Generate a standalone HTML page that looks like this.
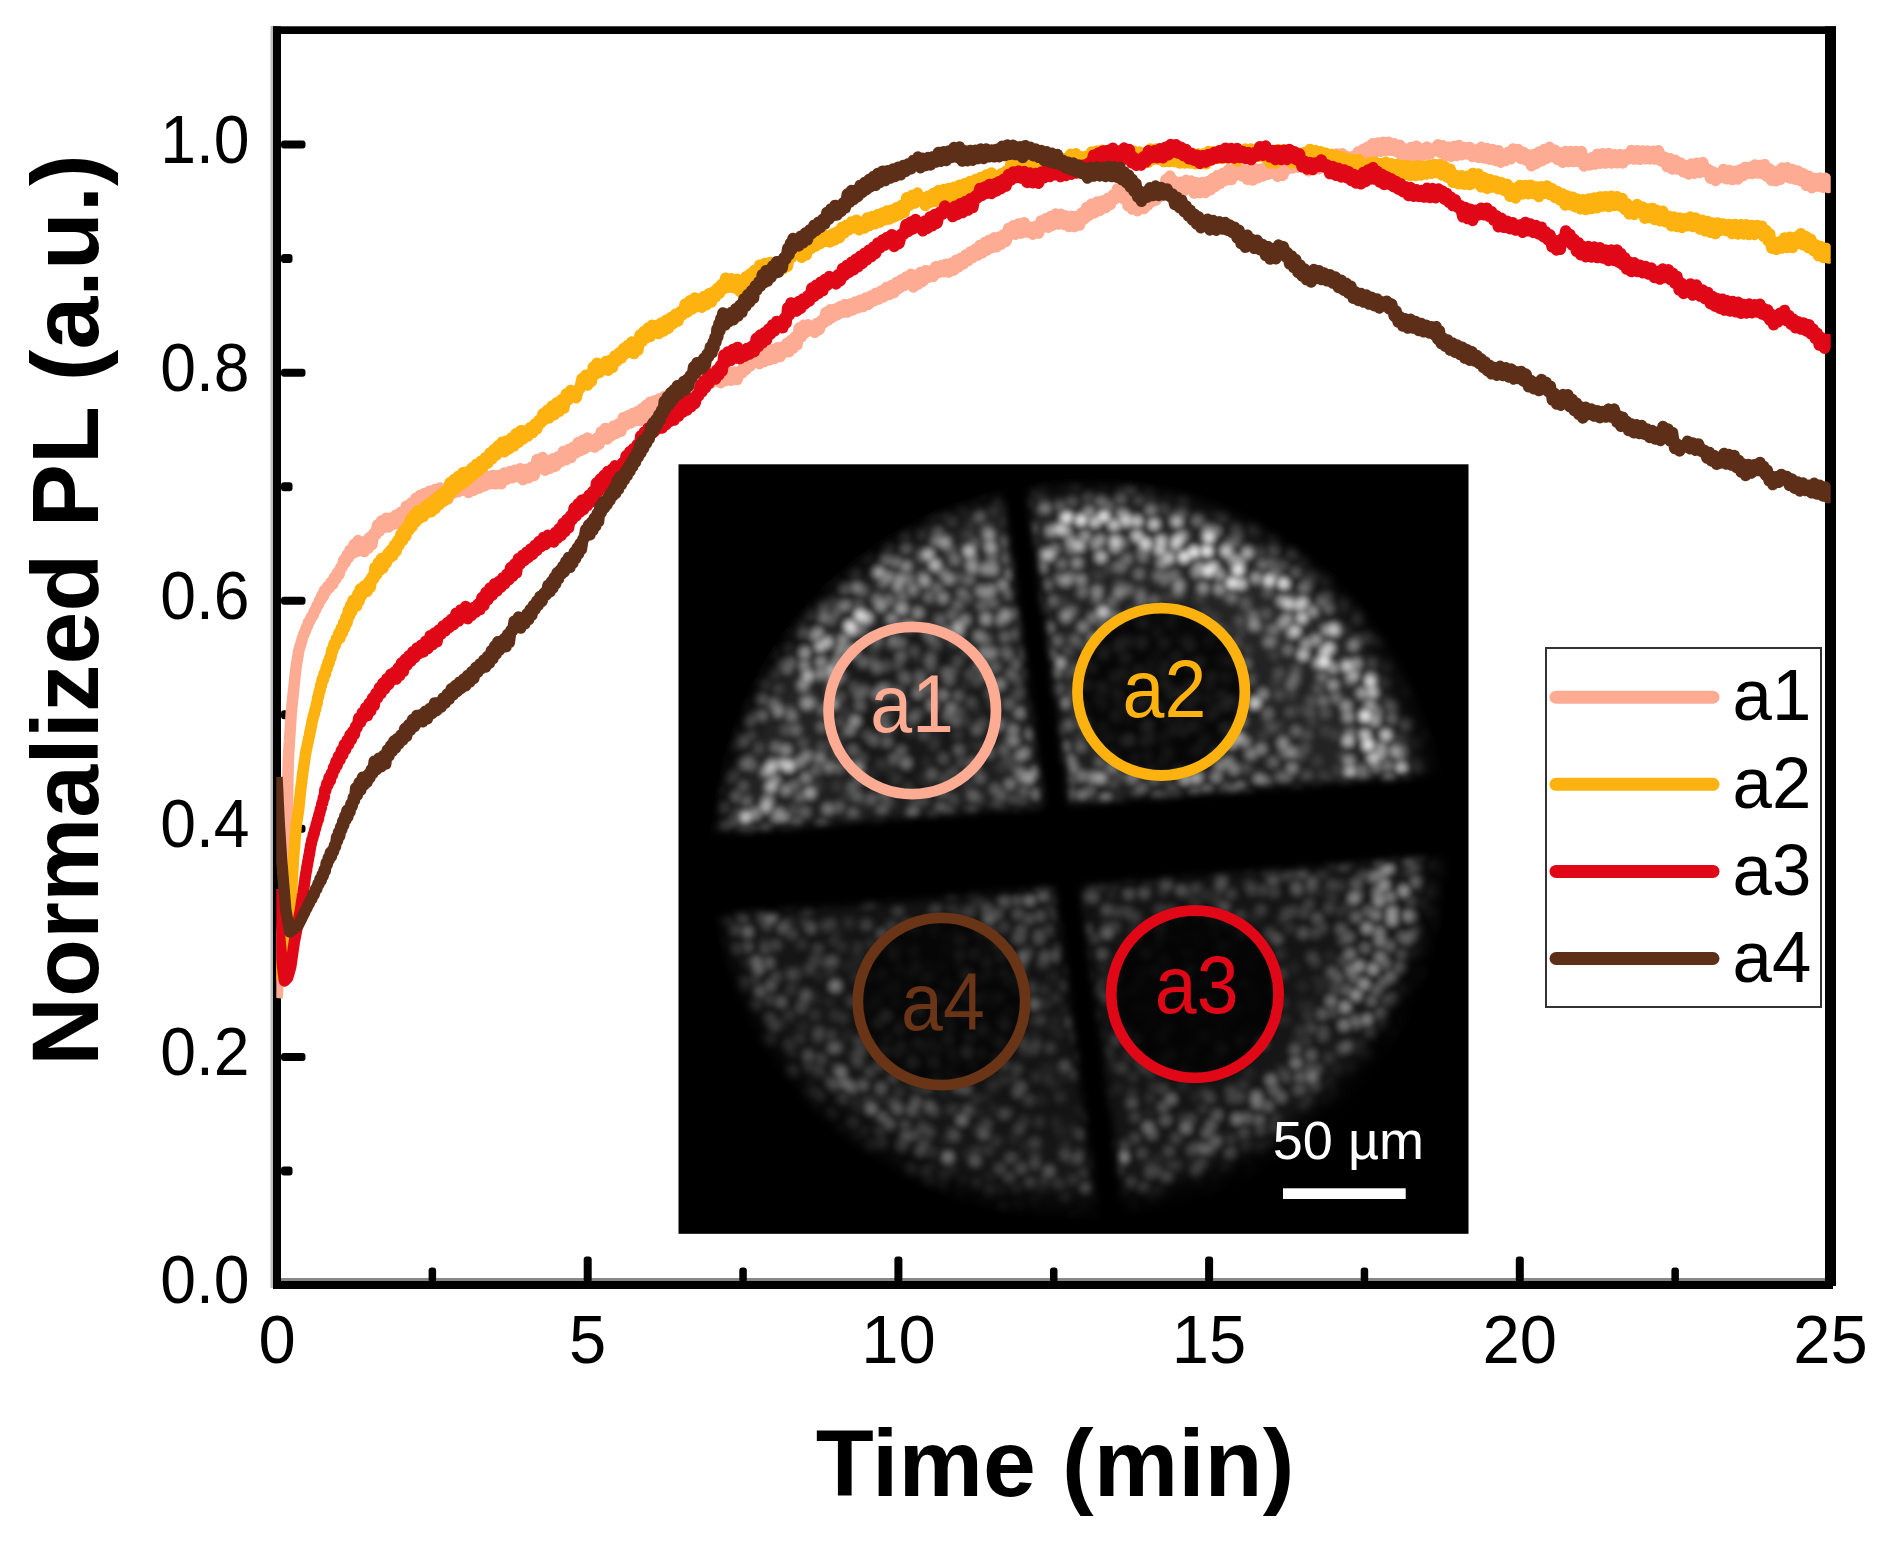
<!DOCTYPE html>
<html lang="en"><head><meta charset="utf-8"><title>Normalized PL vs Time</title>
<style>html,body{margin:0;padding:0;background:#fff;}body{width:1888px;height:1541px;overflow:hidden;}svg{display:block;position:absolute;left:0;top:0;}text{font-family:"Liberation Sans",sans-serif;}</style></head><body>
<svg width="1888" height="1541" viewBox="0 0 1888 1541">
<defs>
<filter id="spk" x="-5%" y="-5%" width="110%" height="110%"><feGaussianBlur stdDeviation="3.3"/></filter>
<filter id="b10" x="-10%" y="-10%" width="120%" height="120%"><feGaussianBlur stdDeviation="10"/></filter>
<filter id="b5" x="-10%" y="-10%" width="120%" height="120%"><feGaussianBlur stdDeviation="4"/></filter>
<radialGradient id="rg" cx="1076" cy="847" r="366" gradientUnits="userSpaceOnUse">
<stop offset="0" stop-color="#c8c8c8"/><stop offset="0.7" stop-color="#d8d8d8"/><stop offset="0.9" stop-color="#fff"/><stop offset="1" stop-color="#eee"/>
</radialGradient>
<linearGradient id="lg" x1="760" y1="1150" x2="1380" y2="560" gradientUnits="userSpaceOnUse">
<stop offset="0" stop-color="#000" stop-opacity="0.18"/><stop offset="1" stop-color="#000" stop-opacity="0"/>
</linearGradient>
<mask id="dm" maskUnits="userSpaceOnUse" x="679" y="464" width="789" height="769">
<rect x="679" y="464" width="789" height="769" fill="#000"/>
<g filter="url(#b10)">
<circle cx="1076" cy="847" r="350" fill="url(#rg)"/>
<circle cx="1076" cy="847" r="350" fill="url(#lg)"/>
<path fill="#000" fill-rule="evenodd" d="M600,400H1550V1300H600ZM1451,861A359,359 0 1 0 733,861A359,359 0 1 0 1451,861Z"/>
</g>
<g filter="url(#b5)" fill="#000">
<rect x="600" y="803" width="960" height="84" transform="rotate(-4.7 1076 845)"/>
<rect x="600" y="845" width="960" height="420" transform="rotate(-4.7 1076 845)" fill-opacity="0.36"/>
<line x1="1007" y1="430" x2="1117" y2="1260" stroke="#000" stroke-width="28"/>
<circle cx="1161" cy="691" r="84" fill-opacity="0.8"/>
<circle cx="1194.5" cy="993.5" r="84" fill-opacity="0.8"/>
<circle cx="941" cy="1001.5" r="84" fill-opacity="0.7"/>
<circle cx="912" cy="710.5" r="84" fill-opacity="0.25"/>
</g>
</mask>
<clipPath id="cp"><rect x="276.3" y="34" width="1554.4" height="1251"/></clipPath>
</defs>
<rect width="1888" height="1541" fill="#fff"/>
<rect x="270.5" y="26" width="2.5" height="1262" fill="#bbb"/>
<rect x="281" y="1278" width="1544" height="3" fill="#888"/>
<rect x="273" y="26.3" width="8" height="1262.7" fill="#000"/>
<rect x="273" y="26.3" width="1563" height="7.7" fill="#000"/>
<rect x="1825" y="26.3" width="11" height="1259.7" fill="#000"/>
<rect x="273" y="1281" width="1560" height="8" fill="#000"/>
<rect x="281" y="1166.5" width="11.5" height="9" rx="3" fill="#000"/>
<text transform="translate(249.5 1303.4) scale(0.945 1)" font-size="68" text-anchor="end" fill="#000">0.0</text>
<rect x="281" y="1052.9" width="24.5" height="8" rx="3" fill="#000"/>
<rect x="281" y="938.4" width="11.5" height="9" rx="3" fill="#000"/>
<text transform="translate(249.5 1075.3) scale(0.945 1)" font-size="68" text-anchor="end" fill="#000">0.2</text>
<rect x="281" y="824.8" width="24.5" height="8" rx="3" fill="#000"/>
<rect x="281" y="710.3" width="11.5" height="9" rx="3" fill="#000"/>
<text transform="translate(249.5 847.2) scale(0.945 1)" font-size="68" text-anchor="end" fill="#000">0.4</text>
<rect x="281" y="596.8" width="24.5" height="8" rx="3" fill="#000"/>
<rect x="281" y="482.2" width="11.5" height="9" rx="3" fill="#000"/>
<text transform="translate(249.5 619.2) scale(0.945 1)" font-size="68" text-anchor="end" fill="#000">0.6</text>
<rect x="281" y="368.7" width="24.5" height="8" rx="3" fill="#000"/>
<rect x="281" y="254.1" width="11.5" height="9" rx="3" fill="#000"/>
<text transform="translate(249.5 391.1) scale(0.945 1)" font-size="68" text-anchor="end" fill="#000">0.8</text>
<rect x="281" y="140.6" width="24.5" height="8" rx="3" fill="#000"/>
<text transform="translate(249.5 163.0) scale(0.945 1)" font-size="68" text-anchor="end" fill="#000">1.0</text>
<rect x="428.6" y="1267.5" width="7.5" height="15" rx="3" fill="#000"/>
<text transform="translate(277.0 1362.9) scale(0.985 1)" font-size="68" text-anchor="middle" fill="#000">0</text>
<rect x="583.7" y="1256.5" width="8" height="26" rx="3" fill="#000"/>
<rect x="739.3" y="1267.5" width="7.5" height="15" rx="3" fill="#000"/>
<text transform="translate(587.7 1362.9) scale(0.985 1)" font-size="68" text-anchor="middle" fill="#000">5</text>
<rect x="894.4" y="1256.5" width="8" height="26" rx="3" fill="#000"/>
<rect x="1050.0" y="1267.5" width="7.5" height="15" rx="3" fill="#000"/>
<text transform="translate(898.4 1362.9) scale(0.985 1)" font-size="68" text-anchor="middle" fill="#000">10</text>
<rect x="1205.1" y="1256.5" width="8" height="26" rx="3" fill="#000"/>
<rect x="1360.7" y="1267.5" width="7.5" height="15" rx="3" fill="#000"/>
<text transform="translate(1209.1 1362.9) scale(0.985 1)" font-size="68" text-anchor="middle" fill="#000">15</text>
<rect x="1515.8" y="1256.5" width="8" height="26" rx="3" fill="#000"/>
<rect x="1671.4" y="1267.5" width="7.5" height="15" rx="3" fill="#000"/>
<text transform="translate(1519.8 1362.9) scale(0.985 1)" font-size="68" text-anchor="middle" fill="#000">20</text>
<text transform="translate(1830.5 1362.9) scale(0.985 1)" font-size="68" text-anchor="middle" fill="#000">25</text>
<g clip-path="url(#cp)">
<polyline points="277.0,998.0 277.2,995.2 277.4,992.5 277.6,989.8 277.8,987.0 278.0,984.2 278.2,981.5 278.5,978.8 278.7,976.0 278.9,973.2 279.1,970.5 279.3,967.8 279.5,965.0 279.7,962.3 279.9,959.7 280.1,957.0 280.3,954.3 280.5,951.7 280.7,949.0 280.9,946.3 281.1,943.7 281.3,941.0 281.5,938.3 281.7,935.7 281.9,933.0 282.1,930.3 282.3,927.7 282.5,925.0 282.7,922.4 282.9,919.7 283.0,917.1 283.2,914.4 283.4,911.8 283.6,909.1 283.7,906.5 283.9,903.8 284.1,901.2 284.3,898.5 284.4,895.9 284.6,893.2 284.8,890.6 285.0,887.9 285.1,885.3 285.3,882.6 285.5,880.0 285.6,877.3 285.7,874.7 285.9,872.0 286.0,869.3 286.1,866.7 286.2,864.0 286.3,861.3 286.5,858.7 286.6,856.0 286.7,853.3 286.8,850.7 286.9,848.0 287.1,845.3 287.2,842.7 287.3,840.0 287.3,837.3 287.3,834.5 287.4,831.8 287.4,829.1 287.4,826.4 287.4,823.6 287.4,820.9 287.4,818.2 287.5,815.5 287.5,812.7 287.5,810.0 287.5,807.4 287.6,804.7 287.6,802.1 287.6,799.4 287.7,796.8 287.7,794.1 287.7,791.5 287.7,788.8 287.8,786.2 287.8,783.5 287.8,780.9 287.9,778.2 287.9,775.6 288.0,772.9 288.1,770.2 288.2,767.6 288.2,764.9 288.3,762.2 288.4,759.6 288.5,756.9 288.6,754.2 288.8,751.5 289.0,748.9 289.1,746.2 289.3,743.5 289.5,740.8 289.6,738.1 289.8,735.5 290.0,732.8 290.2,730.1 290.4,727.4 290.5,724.8 290.7,722.1 290.9,719.4 291.0,716.8 291.2,714.1 291.4,711.4 291.7,708.7 291.9,706.0 292.2,703.4 292.5,700.7 292.8,698.0 293.1,695.4 293.3,692.7 293.6,690.0 293.9,687.1 294.2,684.3 294.5,681.4 294.8,678.6 295.1,675.7 295.4,672.9 295.7,670.0 296.1,667.3 296.5,664.7 296.9,662.0 297.4,659.4 297.8,656.7 298.2,654.1 298.6,651.4 299.4,648.5 300.3,645.6 301.1,642.9 302.0,639.7 302.8,637.2 304.0,633.8 305.1,631.6 306.3,627.9 307.4,626.0 308.6,622.0 310.0,620.8 311.4,616.8 312.9,615.7 314.3,611.4 315.7,609.8 317.1,605.4 318.3,604.7 319.6,600.2 320.8,599.9 322.0,595.1 323.2,596.5 324.5,590.3 325.7,591.8 327.5,586.8 329.2,588.1 331.0,582.3 332.8,584.1 334.4,577.4 335.9,579.0 337.5,572.6 339.1,574.6 340.6,567.8 342.2,567.1 343.7,560.2 345.3,562.5 346.9,555.2 348.4,557.8 350.0,550.1 352.0,553.7 354.0,544.5 356.0,551.8 358.0,540.6 360.0,548.5 362.0,544.1 364.0,551.6 366.0,540.7 368.0,548.2 370.0,537.2 371.9,544.6 373.8,533.4 375.7,534.8 377.6,524.9 379.5,531.0 381.4,521.1 383.8,527.7 386.3,518.2 388.7,527.0 391.2,517.9 393.6,524.2 396.1,515.1 398.5,524.1 401.1,512.2 403.7,520.6 406.2,506.3 408.8,514.6 411.4,502.9 413.6,510.0 415.9,498.2 418.1,507.1 420.3,495.3 422.5,504.3 424.8,493.4 427.0,499.6 429.6,491.2 432.2,498.0 434.8,489.6 437.4,496.4 440.0,488.0 442.6,500.8 445.2,492.0 447.8,499.2 450.3,490.4 452.9,493.4 455.5,483.9 458.1,491.8 460.7,482.3 463.3,490.2 465.9,480.7 468.5,492.4 471.2,482.9 473.9,490.2 476.5,480.8 479.2,488.1 481.9,478.6 484.5,485.9 487.2,476.6 489.9,483.8 492.8,475.5 495.6,483.8 498.5,475.5 501.3,483.8 504.2,473.0 506.9,479.3 509.6,471.6 512.2,477.8 514.9,470.2 517.6,476.4 520.2,468.7 522.9,479.6 525.6,469.4 528.5,477.8 531.3,467.3 534.2,475.6 537.0,459.6 539.9,467.5 542.5,457.5 545.1,470.2 547.7,460.8 550.3,468.2 552.9,458.8 555.6,466.2 558.2,456.8 560.8,461.7 563.4,451.4 566.0,459.7 568.6,449.4 571.0,457.6 573.4,447.2 575.7,452.9 578.1,442.6 580.5,450.6 582.9,440.3 585.2,448.4 587.6,438.1 590.0,446.1 592.4,440.4 594.7,447.1 597.1,438.1 599.1,444.3 601.2,432.0 603.2,437.4 605.3,428.5 607.3,438.9 609.4,428.7 611.4,435.5 613.8,425.9 616.2,433.3 618.5,423.8 620.9,431.2 623.3,417.8 625.7,425.1 628.1,415.7 630.5,423.0 632.9,413.5 635.2,420.8 637.6,411.4 640.0,420.4 642.0,408.7 644.1,417.1 646.1,405.4 648.1,413.8 650.1,402.2 652.2,410.6 654.2,401.1 656.7,409.3 659.1,399.0 661.6,407.2 664.0,396.8 666.5,405.0 669.0,395.7 671.4,404.3 673.9,393.6 676.4,402.1 678.8,391.4 681.3,400.0 683.7,389.2 686.2,397.3 688.7,387.9 691.1,395.2 693.6,385.7 696.1,393.0 698.5,383.5 701.0,390.9 703.4,376.1 705.9,385.2 708.4,374.0 710.8,383.1 713.3,371.8 715.8,380.9 718.2,375.2 720.7,382.7 723.1,373.0 725.6,380.6 728.5,372.5 731.4,380.2 734.2,371.9 737.1,379.6 740.0,371.3 742.0,372.9 744.1,364.9 746.1,369.4 748.1,361.4 750.1,366.0 752.2,358.0 754.2,362.5 756.8,355.6 759.4,363.5 762.0,353.8 764.6,361.6 767.2,351.9 769.8,359.8 772.4,349.6 775.0,358.2 777.6,347.7 780.2,356.4 782.8,346.9 784.8,352.1 786.9,343.4 788.9,351.7 790.9,340.5 792.9,348.3 795.0,337.0 797.0,344.8 799.2,328.1 801.4,336.8 803.7,325.3 805.9,332.5 808.1,324.8 810.3,329.7 812.6,326.3 814.8,332.3 817.0,323.5 819.2,329.5 821.4,320.7 823.7,322.8 825.9,312.6 828.1,320.1 830.3,309.8 832.6,317.3 834.8,309.3 837.0,314.9 839.6,306.8 842.2,312.6 844.8,304.6 847.4,312.1 850.0,304.1 852.7,309.9 855.3,301.9 857.9,307.7 860.5,300.3 863.1,306.6 865.7,298.0 868.3,304.5 870.9,296.0 873.5,300.9 876.1,293.2 878.7,298.9 881.2,291.1 883.8,296.8 886.4,287.6 889.0,294.6 891.6,285.5 894.2,292.5 896.6,282.5 899.0,288.5 901.4,279.8 903.7,285.7 906.1,277.1 908.5,283.0 910.9,274.3 913.3,286.9 915.6,275.3 918.0,284.2 920.4,272.6 922.8,281.5 925.4,270.7 928.0,277.4 930.6,270.7 933.2,276.5 935.8,266.7 938.4,272.6 941.0,265.8 943.6,271.7 946.2,264.2 948.8,272.1 951.4,263.3 953.8,270.1 956.2,260.2 958.5,266.9 960.9,258.3 963.3,263.9 965.7,255.1 968.0,260.7 970.4,251.9 972.8,257.5 975.2,249.2 977.6,255.1 979.9,245.5 982.3,252.7 984.7,242.6 987.1,250.0 989.4,240.2 991.8,247.6 994.2,237.8 996.6,246.7 999.0,237.3 1001.3,244.0 1003.7,234.6 1006.1,241.3 1008.5,228.5 1010.8,234.3 1013.2,225.8 1015.6,234.2 1018.5,223.9 1021.4,233.1 1024.2,222.8 1027.1,232.1 1030.0,227.3 1032.8,234.2 1035.7,226.2 1038.6,233.1 1041.0,221.0 1043.5,227.2 1045.9,218.8 1048.4,227.3 1050.8,216.4 1053.3,225.0 1055.7,214.1 1058.4,224.0 1061.0,214.3 1063.7,224.2 1066.3,216.1 1069.0,226.5 1071.7,216.3 1074.3,226.6 1077.0,216.5 1079.4,225.1 1081.8,213.1 1084.2,218.9 1086.6,207.5 1089.0,215.5 1091.4,204.2 1094.3,212.7 1097.1,201.9 1100.0,210.4 1102.8,200.9 1105.7,207.6 1108.1,198.2 1110.5,204.5 1112.8,195.1 1115.2,198.8 1117.6,188.7 1120.0,195.7 1122.0,188.8 1124.1,199.1 1126.1,192.1 1128.1,205.8 1130.1,199.2 1132.2,209.1 1134.2,202.5 1137.5,210.7 1140.7,202.3 1144.0,208.4 1146.0,198.3 1148.0,204.9 1150.0,194.9 1152.0,201.4 1154.0,193.9 1156.0,200.0 1158.0,190.4 1160.0,196.6 1162.0,186.9 1164.0,188.4 1166.0,179.6 1168.0,184.9 1170.0,176.1 1172.7,183.5 1175.3,181.7 1178.0,190.6 1180.7,182.3 1183.3,191.3 1186.0,180.3 1188.6,187.8 1191.3,181.0 1194.2,193.1 1197.0,182.8 1199.9,192.8 1202.7,182.5 1205.6,192.5 1208.0,181.6 1210.4,189.7 1212.8,178.5 1215.2,186.6 1217.6,175.4 1220.0,183.5 1222.8,173.5 1225.7,180.2 1228.5,169.6 1231.4,179.6 1234.2,169.0 1236.8,174.8 1239.5,168.9 1242.1,175.7 1244.8,169.7 1247.4,179.2 1250.1,169.6 1252.7,180.0 1255.2,169.1 1257.6,177.8 1260.1,169.3 1262.6,176.1 1265.1,167.6 1267.5,174.4 1270.0,165.9 1272.6,173.1 1275.1,169.0 1277.7,176.3 1280.2,168.0 1282.8,175.3 1285.4,167.1 1287.9,168.8 1290.5,161.1 1293.0,167.9 1295.6,160.2 1298.2,166.9 1300.7,159.2 1303.3,165.9 1305.8,162.0 1308.4,170.8 1311.0,161.1 1313.5,169.8 1316.1,160.1 1318.6,168.8 1321.2,154.8 1323.8,162.9 1326.3,153.9 1328.9,162.9 1331.4,154.5 1334.0,162.0 1336.7,154.0 1339.4,161.8 1342.1,153.8 1344.8,166.3 1347.6,156.7 1350.3,166.2 1353.0,156.6 1355.7,161.9 1358.1,151.9 1360.5,159.5 1362.8,149.5 1365.2,157.1 1367.6,147.1 1370.0,152.6 1372.6,143.7 1375.3,151.9 1377.9,143.0 1380.6,151.2 1383.2,142.3 1385.9,150.5 1388.5,142.2 1391.3,150.3 1394.2,143.8 1397.0,151.9 1399.9,145.3 1402.8,158.3 1405.6,149.0 1408.3,158.4 1410.9,147.6 1413.6,157.0 1416.3,146.2 1419.0,156.2 1421.7,148.8 1424.3,154.8 1427.0,147.1 1429.7,154.2 1432.4,148.7 1435.1,150.7 1437.8,144.8 1440.4,152.3 1443.1,145.7 1445.8,156.0 1448.5,147.3 1451.1,156.3 1453.8,146.4 1456.4,155.4 1459.1,145.5 1461.7,154.8 1464.4,147.6 1467.0,153.9 1469.9,147.5 1472.7,156.6 1475.6,150.0 1478.4,157.3 1481.3,147.3 1484.2,158.1 1487.0,148.5 1489.8,159.3 1492.7,149.6 1495.6,160.5 1498.4,150.8 1500.9,162.2 1503.3,153.9 1505.8,160.5 1508.2,152.2 1510.7,158.8 1513.1,149.0 1515.6,155.7 1518.2,149.5 1520.9,158.4 1523.5,152.4 1526.1,160.2 1528.8,155.1 1531.4,165.7 1534.0,154.4 1536.6,163.2 1539.2,151.9 1541.8,160.7 1544.4,149.4 1547.0,158.2 1549.6,147.3 1552.3,156.6 1554.9,150.2 1557.5,159.5 1560.2,153.0 1562.8,162.3 1565.5,151.5 1568.1,161.6 1570.8,151.5 1573.4,161.6 1576.1,151.5 1578.7,161.6 1581.4,151.5 1584.1,166.0 1586.7,158.8 1589.4,165.0 1592.0,157.8 1594.7,164.1 1597.3,154.2 1600.0,163.2 1602.9,153.7 1605.7,163.1 1608.6,153.5 1611.4,163.0 1614.3,154.7 1617.1,162.8 1620.0,154.6 1622.9,162.9 1625.7,154.8 1628.6,158.9 1631.4,150.5 1634.3,159.1 1637.1,150.7 1640.0,159.3 1642.6,150.9 1645.2,158.7 1647.8,151.1 1650.4,158.9 1653.0,151.3 1655.6,159.1 1658.5,150.7 1661.4,161.0 1664.2,156.9 1667.1,166.7 1670.0,158.7 1672.6,169.0 1675.3,160.2 1677.9,169.1 1680.6,162.9 1683.2,171.7 1685.9,165.5 1688.5,173.9 1691.3,164.0 1694.2,173.2 1697.0,163.3 1699.9,172.5 1702.8,162.6 1705.6,171.8 1708.1,169.5 1710.5,178.2 1713.0,171.8 1715.5,180.5 1717.9,174.1 1720.4,177.7 1723.4,169.4 1726.4,178.7 1729.4,170.4 1732.4,179.6 1735.4,171.3 1737.9,179.0 1740.3,169.8 1742.8,175.8 1745.2,167.4 1747.7,173.4 1750.2,167.3 1752.6,173.5 1755.1,164.9 1757.5,173.0 1760.0,165.5 1762.3,173.8 1764.5,164.7 1766.8,176.2 1769.1,168.7 1771.3,180.2 1773.6,172.6 1775.8,180.7 1778.0,170.9 1780.1,179.3 1782.3,168.1 1784.5,176.6 1787.2,167.8 1789.9,178.1 1792.6,169.6 1795.4,179.3 1798.1,171.1 1800.8,180.8 1803.5,173.8 1806.2,185.3 1809.0,176.2 1811.8,187.7 1814.5,178.6 1817.2,186.1 1820.0,178.1 1822.8,187.3 1825.5,178.2 1828.2,187.4 1831.0,184.3" fill="none" stroke="#FDAB93" stroke-width="11.5" stroke-linejoin="round" stroke-linecap="butt"/>
<polyline points="277.0,980.0 277.7,977.2 278.3,974.4 279.0,971.7 279.7,968.9 280.3,966.1 281.0,963.3 281.7,960.6 282.3,957.8 283.0,955.0 283.6,952.2 284.2,949.3 284.8,946.5 285.3,943.7 285.9,940.8 286.5,938.0 286.8,935.3 287.1,932.6 287.4,930.0 287.7,927.3 288.0,924.6 288.3,921.9 288.6,919.2 288.9,916.5 289.1,913.9 289.4,911.2 289.7,908.5 290.0,905.8 290.3,903.1 290.6,900.4 290.9,897.8 291.2,895.1 291.5,892.4 291.7,889.6 291.8,886.9 292.0,884.1 292.2,881.4 292.3,878.6 292.5,875.8 292.7,873.1 292.8,870.3 293.0,867.6 293.2,864.8 293.3,862.1 293.5,859.3 293.7,856.5 293.9,853.8 294.1,851.0 294.4,848.3 294.6,845.5 294.8,842.8 295.0,840.0 295.2,837.2 295.5,834.5 295.7,831.7 295.9,829.0 296.1,826.2 296.5,823.5 296.9,820.8 297.4,818.1 297.8,815.4 298.2,812.7 298.6,810.0 298.9,807.1 299.2,804.3 299.5,801.4 299.8,798.5 300.1,795.6 300.4,792.8 300.7,789.9 301.1,787.1 301.4,784.0 301.8,781.4 302.1,778.3 302.4,775.9 302.8,772.7 303.2,770.3 303.6,766.9 304.0,764.6 304.5,761.0 304.9,758.7 305.3,755.2 305.7,753.2 306.3,749.6 306.9,747.5 307.5,743.8 308.1,741.9 308.7,738.1 309.3,736.5 309.9,732.1 310.5,730.9 311.1,726.4 311.6,725.3 312.2,720.6 312.8,719.7 313.5,715.4 314.2,714.6 315.0,709.7 315.7,709.1 316.4,704.0 317.1,703.5 317.8,697.1 318.5,697.2 319.2,691.2 320.0,691.3 320.7,685.0 321.4,685.7 322.3,679.1 323.3,680.1 324.2,673.2 325.2,674.7 326.2,667.5 327.1,669.1 328.1,661.7 329.0,663.4 330.0,657.0 330.9,657.8 331.9,649.8 332.8,650.6 334.0,644.1 335.2,645.4 336.4,638.6 337.6,640.3 338.8,633.2 340.0,637.8 341.2,628.2 342.4,632.8 343.6,622.7 344.7,627.8 345.9,617.3 347.1,622.7 348.3,610.4 349.5,616.0 350.6,605.3 351.8,611.4 353.0,600.3 354.2,606.7 355.4,598.9 356.6,605.8 357.8,594.0 359.0,601.3 360.2,589.1 361.4,595.9 364.2,586.0 367.1,591.5 368.7,581.6 370.3,587.1 371.9,577.2 373.5,579.0 375.0,567.4 376.6,574.5 378.2,562.9 379.8,570.1 381.4,558.5 383.0,567.9 384.7,558.2 386.3,563.0 387.9,553.3 389.5,558.1 391.2,549.8 392.8,555.7 394.4,545.2 396.1,551.2 397.7,540.7 399.3,544.8 400.9,534.4 402.6,540.3 404.2,529.9 405.8,536.0 407.5,525.8 409.1,530.2 410.7,518.9 412.3,526.1 414.0,514.8 415.6,522.1 417.5,510.9 419.4,518.3 421.3,510.3 423.2,516.6 425.1,506.5 427.0,512.8 429.0,503.8 431.1,511.8 433.1,500.6 435.2,508.6 437.2,497.3 439.3,504.4 441.3,494.0 443.4,501.2 445.6,490.8 447.8,498.0 449.9,482.8 452.1,491.4 454.2,479.5 456.4,488.2 458.5,476.3 460.7,484.7 463.0,472.7 465.2,481.9 467.5,471.8 469.7,478.3 472.0,468.1 474.2,474.6 476.4,464.4 478.7,470.9 480.9,461.3 483.2,467.0 485.4,457.7 487.7,463.3 489.9,453.1 491.9,459.1 494.0,449.5 496.0,455.4 498.1,445.8 500.1,451.8 502.2,442.2 504.2,451.8 506.6,440.9 508.9,448.9 511.3,438.0 513.7,446.1 516.0,433.8 518.4,442.3 520.8,430.7 523.2,439.0 525.5,430.9 527.9,436.0 530.3,427.6 532.7,432.6 534.8,424.1 536.8,428.9 538.9,420.3 540.9,423.0 543.0,413.8 545.0,419.3 547.4,410.3 549.7,417.7 552.1,406.0 554.4,414.5 556.8,402.8 559.2,411.3 561.5,399.7 563.9,408.1 566.2,393.9 568.6,399.7 570.5,390.5 572.4,396.0 574.3,393.1 576.2,397.8 578.1,389.5 580.0,388.4 581.9,378.8 583.8,384.8 585.7,375.2 587.6,385.0 589.5,376.6 591.4,381.4 593.3,367.0 595.2,374.4 597.1,363.3 599.3,372.4 601.5,364.3 603.7,369.6 605.9,361.4 608.1,370.2 610.3,360.3 612.5,367.3 614.7,356.0 616.9,361.0 619.1,353.1 621.3,358.1 623.5,348.6 625.7,353.6 627.7,345.5 629.8,350.1 631.8,342.0 633.8,353.5 635.9,343.0 637.9,350.1 640.0,335.1 642.0,341.6 644.0,331.6 646.1,338.1 648.1,328.1 650.1,336.4 652.2,325.3 654.2,332.9 656.6,325.5 659.0,333.6 661.4,322.9 663.7,331.0 666.1,320.3 668.5,328.3 670.9,317.6 673.3,323.7 675.6,314.2 678.0,321.1 680.4,311.6 682.8,314.5 685.2,304.1 687.5,311.9 689.9,300.8 692.3,309.0 694.7,298.1 697.0,306.3 699.4,299.1 701.8,307.2 704.2,296.4 706.5,304.6 708.9,293.8 711.3,302.0 713.3,292.0 715.4,297.0 717.4,288.3 719.5,293.3 721.5,284.6 723.6,288.8 725.6,278.2 728.5,287.2 731.4,278.7 734.2,287.8 737.1,279.3 740.0,291.4 742.0,280.4 744.1,287.7 746.1,276.7 748.1,283.3 750.1,274.1 752.2,279.6 754.2,270.5 756.9,272.9 759.6,265.3 762.2,271.1 764.9,263.5 767.6,273.6 770.2,262.4 772.9,271.8 775.6,265.7 778.0,271.6 780.3,263.1 782.7,269.0 785.0,260.5 787.4,266.4 789.8,251.6 792.1,256.9 794.5,249.1 796.8,254.4 799.2,249.0 801.6,257.2 803.9,246.4 806.3,254.7 808.6,243.8 811.0,248.7 813.4,239.4 815.7,246.1 818.1,236.8 820.4,243.5 822.8,234.2 825.2,241.2 827.6,236.2 829.9,242.0 832.3,234.1 834.7,239.9 837.1,231.9 839.5,237.7 841.9,227.4 844.2,233.0 846.6,225.2 849.0,229.6 851.4,221.9 854.0,227.7 856.6,220.2 859.2,229.7 861.8,222.2 864.4,228.1 867.0,218.1 869.6,225.5 872.2,216.5 874.8,223.8 877.4,214.8 880.0,222.1 882.4,213.1 884.8,219.8 887.1,210.9 889.5,219.1 891.9,210.0 894.3,216.9 896.6,207.7 899.0,214.7 901.4,205.5 904.1,212.4 906.8,197.8 909.4,205.3 912.1,195.5 914.8,203.0 917.4,193.1 920.1,200.7 922.8,197.4 925.4,205.5 928.0,196.3 930.6,202.3 933.2,193.6 935.8,201.3 938.4,190.6 941.0,200.1 943.6,189.6 946.2,199.1 948.8,188.5 951.4,198.1 954.1,187.3 956.8,195.0 959.4,185.2 962.1,193.5 964.8,183.7 967.4,192.1 970.1,181.4 972.8,190.6 975.5,179.6 978.1,188.5 980.8,177.5 983.5,186.4 986.2,175.1 988.9,181.6 991.5,173.0 994.2,184.1 996.6,176.3 999.0,181.5 1001.3,173.7 1003.7,178.9 1006.1,171.2 1008.5,175.6 1010.8,164.3 1013.2,173.0 1015.6,161.8 1018.5,171.0 1021.4,160.4 1024.2,169.6 1027.1,157.4 1030.0,164.1 1032.7,156.5 1035.4,163.7 1038.1,156.0 1040.8,165.7 1043.5,156.3 1046.2,165.3 1048.9,155.8 1051.6,166.9 1054.3,159.6 1057.0,166.4 1059.7,159.1 1062.4,165.9 1065.1,158.6 1067.8,165.4 1070.5,154.3 1073.2,163.3 1075.9,153.8 1078.6,162.8 1081.3,156.7 1084.0,164.4 1086.6,156.0 1089.1,159.3 1091.7,152.0 1094.3,158.3 1096.9,151.1 1099.4,157.4 1102.0,150.2 1104.6,156.4 1107.1,152.4 1109.7,160.9 1112.3,151.5 1114.9,159.9 1117.4,150.7 1120.0,156.6 1122.8,150.6 1125.6,157.3 1128.4,151.3 1131.2,158.0 1134.0,151.2 1136.8,160.8 1139.6,152.0 1142.4,161.6 1145.2,152.7 1148.0,162.3 1150.6,149.1 1153.3,159.3 1155.9,149.1 1158.5,159.3 1161.2,154.2 1163.8,161.5 1166.4,154.2 1169.1,161.5 1171.7,154.2 1174.3,161.5 1176.9,154.2 1179.6,163.0 1182.2,153.7 1184.8,163.0 1187.5,153.7 1190.1,163.0 1192.7,153.7 1195.4,163.7 1198.0,154.0 1200.6,163.7 1203.2,154.0 1205.9,163.7 1208.5,151.5 1211.1,158.4 1213.8,151.5 1216.4,158.4 1219.0,151.5 1221.6,158.4 1224.2,151.5 1226.9,158.0 1229.5,150.0 1232.1,158.0 1234.8,151.5 1237.4,161.1 1240.0,151.5 1242.7,156.1 1245.5,149.1 1248.2,156.1 1250.9,149.1 1253.6,156.1 1256.4,149.1 1259.1,156.1 1261.8,149.2 1264.5,157.1 1267.3,149.2 1270.0,162.9 1272.7,152.9 1275.3,163.1 1278.0,149.6 1280.7,157.1 1283.3,149.8 1286.0,157.3 1288.7,152.9 1291.3,162.9 1294.0,153.1 1296.7,163.1 1299.3,153.3 1302.0,160.6 1304.7,152.3 1307.3,160.8 1310.0,149.5 1312.7,160.4 1315.3,150.6 1318.0,161.5 1320.7,151.7 1323.3,162.6 1326.0,153.3 1328.7,162.3 1331.3,154.4 1334.0,163.4 1336.7,155.6 1339.4,164.6 1342.1,156.9 1344.8,167.8 1347.6,158.5 1350.3,169.1 1353.0,159.7 1355.7,170.3 1358.6,159.5 1361.4,172.2 1364.3,164.2 1367.1,170.6 1370.0,162.5 1372.7,170.4 1375.3,162.0 1378.0,171.4 1380.7,163.5 1383.4,172.8 1386.1,162.3 1388.7,172.3 1391.4,163.7 1394.1,173.4 1396.8,164.6 1399.4,174.3 1402.1,165.5 1404.8,174.6 1407.5,165.7 1410.1,175.5 1412.8,166.6 1415.5,175.5 1418.2,165.7 1420.8,175.0 1423.5,166.3 1426.2,174.1 1428.8,165.4 1431.5,173.2 1434.2,164.5 1436.9,172.6 1439.5,164.5 1442.2,175.0 1444.9,166.8 1447.6,177.3 1450.2,169.2 1452.9,182.3 1455.6,175.3 1458.5,183.7 1461.3,175.7 1464.2,184.2 1467.0,176.2 1469.9,184.6 1472.7,173.4 1475.6,183.0 1478.4,173.9 1481.3,186.8 1484.2,177.8 1487.0,188.4 1489.8,179.5 1492.7,187.1 1495.6,180.9 1498.4,188.7 1501.3,182.6 1504.1,190.4 1507.0,184.2 1509.9,196.2 1512.7,188.2 1515.6,197.9 1520.0,185.5 1522.7,193.9 1525.4,185.4 1528.1,193.7 1530.8,185.2 1533.5,193.6 1536.2,186.9 1538.9,196.4 1541.6,186.7 1544.3,193.3 1547.0,186.0 1549.6,194.5 1552.2,188.8 1554.8,197.3 1557.4,191.5 1560.0,200.0 1562.5,193.9 1565.1,204.9 1567.6,196.0 1570.1,204.7 1572.7,197.2 1575.2,206.8 1577.7,199.3 1580.3,208.8 1582.8,199.7 1585.7,209.4 1588.5,198.9 1591.4,208.6 1594.2,198.1 1597.1,207.7 1599.9,196.9 1602.8,206.1 1605.7,196.7 1608.5,206.6 1611.4,196.2 1614.3,205.5 1617.1,196.7 1620.0,206.0 1622.3,198.5 1624.6,209.1 1626.8,203.6 1629.1,213.8 1631.4,206.7 1634.3,214.3 1637.1,204.6 1640.0,212.1 1642.4,207.0 1644.9,218.2 1647.3,208.9 1649.7,217.4 1652.1,208.4 1654.6,219.4 1657.0,210.3 1659.9,220.8 1662.7,211.3 1665.6,221.7 1668.5,216.2 1671.3,225.7 1674.2,217.1 1676.9,226.5 1679.5,218.0 1682.2,227.4 1684.9,218.8 1687.6,225.7 1690.2,217.0 1692.9,226.5 1695.6,217.9 1700.0,229.1 1702.5,220.2 1705.1,230.8 1707.7,221.6 1710.2,232.2 1712.8,223.0 1715.3,233.6 1717.9,223.0 1720.4,230.3 1723.3,223.9 1726.3,230.7 1729.2,224.4 1732.1,233.6 1735.1,224.5 1738.0,234.0 1740.8,224.7 1743.5,234.0 1746.2,224.7 1749.0,234.4 1751.8,225.5 1754.5,234.4 1757.2,225.5 1760.0,232.6 1761.9,226.3 1763.9,236.6 1765.8,230.2 1767.8,240.5 1769.7,234.1 1771.7,248.2 1773.6,243.2 1776.3,249.4 1779.0,241.9 1781.8,248.1 1784.5,238.0 1787.2,247.5 1789.9,237.3 1792.6,247.5 1795.4,237.3 1798.1,243.5 1800.8,233.8 1803.3,244.9 1805.8,236.5 1808.3,247.6 1810.8,239.2 1813.3,250.3 1815.8,244.8 1818.3,255.5 1820.9,246.6 1823.4,257.4 1825.9,248.4 1828.5,258.1 1831.0,255.6" fill="none" stroke="#FDB20F" stroke-width="11.5" stroke-linejoin="round" stroke-linecap="butt"/>
<polyline points="277.0,889.0 277.1,891.7 277.3,894.4 277.4,897.1 277.6,899.8 277.7,902.5 277.9,905.2 278.0,907.9 278.2,910.6 278.3,913.4 278.5,916.1 278.6,918.8 278.8,921.5 278.9,924.2 279.1,926.9 279.2,929.6 279.4,932.3 279.5,935.0 279.8,937.7 280.0,940.4 280.2,943.1 280.5,945.8 280.8,948.5 281.0,951.2 281.2,953.9 281.5,956.6 281.8,959.3 282.0,962.0 282.4,964.7 282.7,967.4 283.1,970.1 283.4,972.9 283.8,975.6 284.1,978.3 284.5,981.0 287.5,978.0 288.3,975.2 289.1,972.5 289.9,969.7 290.7,966.9 291.1,964.1 291.5,961.4 291.9,958.6 292.3,955.8 292.7,953.1 293.1,950.3 293.5,947.5 293.9,944.8 294.3,942.0 294.8,939.2 295.4,936.5 295.9,933.8 296.4,931.0 296.9,928.2 297.5,925.5 298.0,922.8 298.5,920.0 299.0,917.2 299.6,914.5 300.1,911.7 300.6,909.0 301.0,906.1 301.4,903.5 301.8,900.5 302.2,898.2 302.6,895.2 303.1,892.8 303.5,889.6 303.9,887.4 304.3,884.1 304.7,882.0 305.1,878.1 305.5,875.9 306.0,872.5 306.5,870.4 306.9,866.9 307.4,864.9 307.9,861.4 308.4,859.6 308.9,855.8 309.4,854.1 309.9,850.2 310.3,848.6 310.8,844.8 311.3,843.7 312.0,839.5 312.7,838.7 313.4,834.3 314.1,833.7 314.8,829.5 315.5,828.7 316.2,824.3 316.9,823.7 317.6,819.4 318.3,819.4 319.0,814.3 319.7,813.7 320.4,809.0 321.2,808.5 321.9,803.3 322.7,802.9 323.4,797.6 324.2,797.4 324.9,789.4 325.7,790.5 326.8,783.4 328.0,784.9 329.1,777.4 330.3,780.7 331.4,773.1 332.5,775.1 333.7,767.2 334.8,769.6 336.0,761.3 337.1,765.4 338.5,756.2 340.0,760.0 341.4,750.3 342.8,754.6 344.2,744.7 345.7,749.3 347.1,740.1 348.6,744.4 350.0,734.8 351.4,739.6 352.8,731.4 354.3,734.8 355.7,726.2 357.1,727.6 358.8,718.0 360.5,722.7 362.3,712.8 364.0,717.6 365.7,707.7 367.4,715.7 369.1,703.3 370.8,710.6 372.5,698.2 374.2,705.4 375.9,693.3 377.6,697.9 379.4,687.8 381.1,693.4 382.8,683.2 384.8,688.8 386.8,678.8 388.8,684.5 390.8,674.3 392.8,679.9 394.5,672.1 396.2,679.1 398.0,668.1 399.7,675.4 401.4,663.1 403.3,671.5 405.2,659.3 407.1,665.2 409.0,655.7 410.9,661.3 412.8,651.8 414.9,657.5 417.1,648.0 419.2,653.7 421.3,645.2 423.5,651.9 425.6,641.4 427.9,648.6 430.2,635.7 432.4,644.7 434.7,632.9 437.0,641.8 439.0,629.9 441.1,634.1 443.1,626.0 445.2,630.9 447.2,622.8 449.3,627.6 451.3,619.5 453.7,624.5 456.1,613.2 458.5,621.1 460.8,609.9 463.2,617.8 465.6,606.6 467.6,618.7 469.7,610.7 471.7,615.4 473.8,607.4 475.8,612.1 477.9,604.1 479.9,609.7 481.9,597.6 483.9,605.4 485.9,592.4 487.9,599.6 489.9,588.1 492.3,595.3 494.6,583.8 497.0,591.1 498.9,581.5 500.9,587.3 502.8,577.9 504.8,583.7 506.7,574.3 508.7,579.9 510.6,567.7 512.6,576.3 514.5,564.1 516.5,572.7 518.4,558.7 520.4,563.8 522.5,555.5 524.5,560.5 526.6,552.2 528.6,557.3 530.7,548.9 532.7,554.4 534.9,545.3 537.0,550.4 539.2,541.4 541.4,546.5 543.5,537.5 545.7,544.6 547.8,535.3 550.0,540.7 551.9,536.2 553.7,542.0 555.6,532.4 557.4,538.2 559.3,528.6 561.2,535.4 563.0,523.5 564.9,531.6 566.8,519.7 568.6,527.8 570.5,515.9 572.3,519.7 574.2,507.9 576.1,515.9 577.9,504.1 579.8,512.1 581.6,500.3 583.5,509.6 585.4,499.0 587.2,505.8 589.1,495.2 590.9,502.0 592.8,491.4 594.7,498.2 596.5,482.9 598.4,491.3 600.2,479.1 602.1,487.5 604.0,475.3 605.8,483.7 607.7,471.5 609.6,480.4 611.4,469.6 613.3,476.6 615.1,465.8 617.0,477.2 618.8,467.1 620.6,473.1 622.5,463.1 624.3,469.1 626.1,455.8 627.9,462.3 629.8,451.8 631.6,461.1 633.4,448.7 635.2,457.1 637.1,444.7 638.9,453.0 640.7,435.9 642.5,442.7 644.4,431.9 646.2,438.7 648.0,428.1 650.0,435.3 652.0,424.8 654.0,431.9 656.0,421.4 658.0,428.6 660.0,419.6 662.0,428.0 664.0,416.3 666.0,424.6 668.0,412.9 670.0,421.3 672.0,409.6 674.0,420.1 676.2,408.9 678.4,416.3 680.6,403.8 682.8,412.1 684.8,400.3 686.9,410.1 688.9,401.2 690.9,406.9 692.9,398.0 695.0,403.6 697.0,394.7 698.7,395.9 700.4,385.1 702.0,391.9 703.7,381.1 705.4,387.7 707.1,378.1 708.8,383.7 710.5,374.1 712.1,379.6 713.8,373.6 715.5,379.0 717.2,369.6 718.9,374.9 720.6,365.6 722.2,370.9 723.9,355.1 725.6,362.7 728.0,351.9 730.4,360.4 732.8,349.6 735.1,358.1 737.5,347.4 739.9,358.6 742.3,350.7 744.7,356.3 747.1,348.4 749.4,354.1 751.8,346.2 754.2,351.8 756.2,338.6 758.3,346.4 760.3,335.1 762.4,343.0 764.4,332.7 766.5,340.0 768.5,329.2 770.5,334.2 772.6,324.9 774.6,330.7 776.7,321.4 778.7,327.3 780.8,322.3 782.8,327.7 784.4,318.1 786.1,322.8 787.7,307.8 789.4,314.7 791.0,302.9 792.7,309.8 794.3,304.4 796.5,311.1 798.7,301.6 800.9,308.2 803.1,298.9 805.3,303.8 807.5,296.0 809.6,300.9 811.8,288.1 814.0,296.4 816.2,285.2 818.4,293.5 820.6,282.3 822.8,290.6 825.0,279.4 827.2,285.4 829.4,276.5 831.6,282.4 833.8,277.8 836.0,283.9 838.2,274.7 840.4,280.8 842.6,268.5 844.8,275.3 847.0,265.4 849.2,272.3 851.4,262.3 853.6,269.7 855.8,259.3 858.0,266.7 860.2,256.3 862.4,263.6 864.6,253.3 866.8,259.7 869.0,250.2 871.2,256.6 873.4,247.2 875.6,253.6 877.8,243.0 880.0,247.8 882.4,240.1 884.8,245.0 887.1,237.4 889.5,242.3 891.9,234.7 894.2,246.4 896.6,237.0 899.0,243.7 901.4,234.3 903.8,234.1 906.1,224.6 908.5,231.4 910.9,222.0 913.2,228.9 915.6,219.5 918.0,226.4 920.4,223.5 922.8,230.8 925.1,221.0 927.5,228.3 929.9,217.1 932.2,225.7 934.6,214.6 937.0,223.2 939.6,212.3 942.2,214.4 944.8,206.0 947.4,212.2 950.0,208.5 952.6,216.6 955.2,206.3 957.8,214.4 960.4,203.7 963.0,212.5 965.6,201.5 968.0,210.1 970.4,198.8 972.8,207.5 975.1,196.2 977.5,197.9 979.9,188.4 982.3,195.3 984.7,187.0 987.1,193.2 989.4,184.4 991.8,193.4 994.2,184.1 996.6,190.9 999.0,181.7 1001.3,188.5 1003.7,179.3 1006.1,186.1 1008.5,174.5 1010.8,180.1 1013.2,172.1 1015.6,177.7 1018.5,171.1 1021.4,178.1 1024.2,171.5 1027.1,182.4 1030.0,173.1 1032.8,182.8 1035.7,173.5 1038.6,183.2 1041.4,172.1 1044.3,177.7 1047.1,169.8 1050.0,176.4 1052.8,165.8 1055.4,174.7 1058.0,164.6 1060.6,176.6 1063.2,169.7 1065.8,175.4 1068.4,168.5 1071.0,174.2 1073.6,167.3 1076.2,173.0 1078.8,166.3 1081.4,172.1 1084.0,165.1 1086.4,170.5 1088.8,163.0 1091.2,165.1 1093.6,155.2 1096.0,163.0 1098.4,153.1 1100.8,160.8 1103.2,150.9 1105.6,158.7 1108.0,150.4 1110.4,157.5 1112.8,148.2 1115.6,160.5 1118.5,151.3 1121.3,161.0 1124.2,148.1 1127.0,154.9 1129.3,149.6 1131.6,162.7 1133.9,157.4 1136.2,165.3 1138.5,160.0 1141.0,165.0 1143.5,156.8 1146.0,161.8 1148.5,150.8 1151.4,157.7 1154.2,150.8 1157.1,157.7 1159.9,148.8 1162.8,157.7 1165.5,147.3 1168.2,154.8 1170.8,144.5 1173.5,152.0 1176.0,144.7 1178.6,153.3 1181.1,147.2 1183.7,155.7 1186.2,149.6 1188.8,158.8 1191.3,153.2 1194.2,160.2 1197.0,155.2 1199.9,163.3 1202.7,155.7 1205.6,162.0 1208.4,154.5 1211.3,159.9 1214.2,152.5 1217.0,157.9 1219.8,150.4 1222.7,157.6 1225.6,148.2 1228.4,157.8 1231.3,148.4 1234.1,158.0 1237.0,148.6 1239.9,157.4 1242.7,151.5 1245.6,158.5 1248.4,152.6 1251.3,159.6 1254.2,152.8 1257.0,155.9 1259.9,146.7 1262.7,155.2 1265.6,146.0 1270.0,156.9 1272.8,150.5 1275.7,159.6 1278.5,150.4 1281.3,159.5 1284.2,150.3 1287.0,159.4 1289.5,149.5 1292.0,157.7 1294.5,151.7 1297.0,160.0 1299.5,153.9 1302.0,166.7 1304.5,161.3 1307.0,169.0 1309.9,162.6 1312.7,169.4 1315.6,163.0 1318.4,166.5 1321.3,159.9 1324.1,166.9 1327.0,164.9 1329.9,173.6 1332.7,166.6 1335.6,175.2 1338.5,168.3 1341.3,176.9 1344.2,169.9 1346.6,177.8 1349.0,171.8 1351.3,180.4 1353.7,174.4 1356.1,183.0 1358.5,177.0 1360.9,183.8 1363.3,172.5 1365.7,181.4 1368.0,170.1 1370.4,179.0 1372.8,167.7 1375.1,179.1 1377.4,171.6 1379.6,181.9 1381.9,174.2 1384.2,184.5 1386.6,176.8 1389.0,184.2 1391.3,178.8 1393.7,186.8 1396.1,181.4 1398.5,189.3 1400.8,183.9 1403.2,191.8 1405.6,186.8 1408.3,195.4 1410.9,187.6 1413.6,196.2 1416.2,189.7 1418.9,196.5 1421.5,190.5 1424.2,197.1 1427.1,188.2 1429.9,197.4 1432.8,188.6 1435.6,197.7 1438.5,188.9 1440.5,195.6 1442.6,191.1 1444.6,199.2 1446.7,193.4 1448.7,202.0 1450.8,197.1 1452.8,205.6 1455.3,199.8 1457.8,207.4 1460.3,205.7 1462.8,216.8 1465.2,207.5 1467.7,218.6 1470.2,209.3 1472.7,220.4 1475.6,210.2 1478.4,214.8 1481.3,208.2 1484.1,214.8 1487.0,208.2 1489.3,216.6 1491.6,211.8 1493.8,220.3 1496.1,215.7 1498.4,226.8 1501.3,218.3 1504.1,227.3 1507.0,221.3 1509.9,228.7 1512.7,222.7 1515.6,230.1 1520.0,224.9 1522.7,232.3 1525.3,222.4 1528.0,230.8 1530.7,224.0 1533.4,232.4 1536.1,225.6 1538.7,234.0 1541.4,227.2 1543.5,236.7 1545.7,231.7 1547.8,239.8 1550.0,234.7 1552.1,246.9 1554.2,240.3 1556.4,250.0 1558.5,243.4 1560.3,249.2 1562.1,238.7 1563.9,242.0 1565.7,231.0 1567.8,241.4 1570.0,234.4 1572.1,244.9 1574.2,239.3 1576.4,251.3 1578.5,242.8 1580.7,254.8 1582.8,246.3 1585.7,256.8 1588.5,246.5 1591.4,257.0 1594.3,247.1 1597.1,257.6 1600.0,247.7 1602.8,257.9 1605.7,250.1 1608.5,260.4 1611.3,250.1 1614.2,260.4 1617.0,250.1 1618.9,262.4 1620.8,253.5 1622.8,264.9 1624.7,257.5 1626.6,269.0 1628.5,261.6 1631.3,271.6 1634.2,262.8 1637.0,271.5 1639.9,265.2 1642.8,272.7 1645.6,266.4 1648.5,274.1 1651.4,268.1 1654.2,277.4 1657.1,271.4 1660.0,279.1 1662.8,269.0 1665.7,277.6 1668.5,269.8 1670.6,279.7 1672.8,273.2 1674.9,283.2 1677.0,276.6 1679.2,290.1 1681.3,283.1 1683.6,293.5 1685.9,286.6 1688.2,291.5 1690.5,283.9 1692.8,295.1 1696.4,285.0 1700.0,296.1 1702.7,289.9 1705.3,298.8 1708.0,292.6 1710.4,303.7 1712.7,296.4 1715.1,306.1 1717.4,298.8 1719.8,308.4 1722.1,299.2 1724.5,310.1 1727.2,300.7 1730.0,310.9 1732.8,301.5 1735.5,311.7 1738.2,302.3 1741.0,313.3 1743.7,304.5 1746.4,313.0 1749.1,304.1 1751.9,312.7 1754.6,304.7 1757.3,312.0 1760.0,304.3 1761.9,314.0 1763.9,308.7 1765.8,315.6 1767.8,310.0 1769.7,320.0 1771.7,314.4 1773.6,324.7 1775.8,316.1 1778.0,321.9 1780.1,313.2 1782.3,319.0 1784.5,310.4 1786.7,320.7 1788.9,315.6 1791.0,324.2 1793.2,319.1 1795.4,327.7 1798.1,321.8 1800.8,329.1 1803.6,322.9 1806.3,330.9 1809.0,324.7 1811.0,334.0 1813.1,329.1 1815.2,338.4 1817.2,333.2 1819.2,345.0 1821.3,337.6 1824.5,348.2 1827.8,339.4 1831.0,342.8" fill="none" stroke="#E00716" stroke-width="11.5" stroke-linejoin="round" stroke-linecap="butt"/>
<polyline points="277.0,777.0 277.1,779.7 277.2,782.4 277.4,785.1 277.5,787.8 277.6,790.4 277.8,793.1 277.9,795.8 278.0,798.5 278.1,801.2 278.2,803.9 278.4,806.6 278.5,809.2 278.6,811.9 278.8,814.6 278.9,817.3 279.0,820.0 279.2,822.6 279.3,825.2 279.5,827.8 279.7,830.4 279.8,833.0 280.0,835.6 280.2,838.2 280.3,840.8 280.5,843.4 280.7,846.0 280.8,848.6 281.0,851.2 281.2,853.8 281.3,856.4 281.5,859.0 281.7,861.6 281.9,864.3 282.2,866.9 282.4,869.5 282.6,872.2 282.8,874.8 283.0,877.4 283.3,880.1 283.5,882.7 283.7,885.3 283.9,887.9 284.2,890.6 284.4,893.2 284.6,895.8 284.8,898.5 285.0,901.1 285.3,903.7 285.5,906.4 285.7,909.0 286.2,911.9 286.7,914.8 287.2,917.6 287.8,920.5 288.3,923.4 288.8,926.2 289.3,929.1 289.8,932.0 291.9,930.4 294.0,928.8 296.0,927.1 298.1,925.5 299.3,923.0 300.6,920.5 301.8,918.1 303.1,915.3 304.3,913.2 305.5,910.1 306.8,908.2 308.0,905.1 309.2,903.6 310.5,900.0 311.8,899.0 313.0,894.5 314.2,894.3 315.5,889.1 316.8,888.9 318.0,883.9 319.0,884.0 320.1,878.7 321.1,880.7 322.1,874.8 323.1,876.0 324.1,869.7 325.2,871.3 326.2,862.8 327.2,864.8 328.3,857.6 329.3,859.9 330.4,852.4 331.4,856.4 332.4,850.2 333.5,851.7 334.5,845.2 335.5,846.9 336.6,837.1 337.6,840.7 338.6,832.0 339.7,835.9 340.7,826.8 341.8,829.7 342.8,821.0 343.8,824.7 344.9,815.7 345.9,819.8 346.9,810.5 347.9,816.6 348.9,808.5 350.0,811.7 351.0,803.4 352.2,806.3 353.4,797.2 354.5,800.4 355.7,788.0 357.4,795.0 359.1,782.5 360.8,790.0 362.5,777.2 364.2,784.8 365.6,778.4 367.1,782.4 368.5,773.9 369.9,777.9 371.3,769.4 372.8,773.3 374.2,761.2 376.5,769.7 378.8,758.3 381.1,766.8 383.4,755.5 385.7,764.0 387.3,750.1 389.0,755.8 390.6,745.6 392.2,751.3 393.8,741.1 395.5,748.0 397.1,738.8 399.0,743.8 400.9,735.0 402.8,740.0 404.7,728.6 406.6,736.3 408.5,724.8 410.5,730.4 412.6,719.6 414.6,726.4 416.7,715.5 418.7,722.3 420.8,714.8 422.8,721.7 425.2,711.3 427.5,718.8 429.9,708.5 432.3,713.3 434.6,702.9 437.0,710.5 439.0,702.3 441.1,707.3 443.1,698.2 445.2,703.2 447.2,694.1 449.3,699.2 451.3,688.7 453.3,694.8 455.4,685.5 457.4,691.6 459.5,682.2 461.5,688.3 463.6,679.0 465.6,685.8 467.6,675.4 469.7,682.1 471.7,671.7 473.8,678.5 475.8,667.5 477.9,672.2 479.9,663.9 481.8,668.5 483.7,660.2 485.6,667.0 487.5,656.4 489.4,663.1 491.3,650.7 492.9,658.6 494.6,646.2 496.2,654.1 497.8,641.7 499.4,650.2 501.1,641.5 502.7,645.7 504.3,638.5 506.0,646.7 507.6,634.4 509.3,642.6 510.9,630.3 512.6,630.8 514.2,621.3 516.3,626.6 518.5,617.0 520.6,628.1 522.7,618.0 524.9,623.8 527.0,613.7 528.6,619.5 530.2,609.4 531.9,615.2 533.5,605.2 535.1,609.6 536.8,600.9 538.4,605.3 540.0,596.6 542.0,601.4 544.0,593.1 546.0,595.2 548.0,585.4 550.0,591.7 551.4,581.5 552.9,588.1 554.3,577.2 555.7,583.7 557.1,572.8 558.6,578.7 560.0,570.3 561.4,574.4 562.9,566.1 564.3,571.7 565.7,561.7 567.1,567.3 568.6,557.4 570.0,567.3 571.4,556.5 572.9,562.9 574.3,552.1 575.7,558.5 577.2,547.8 578.6,553.8 580.0,543.6 581.4,549.4 582.9,539.2 584.3,538.0 585.7,529.4 587.2,533.7 588.6,525.0 590.0,534.7 591.4,522.2 592.9,530.3 594.3,517.9 595.7,526.0 597.2,513.5 598.6,521.6 600.0,506.2 601.4,512.3 602.9,501.8 604.3,507.9 605.7,500.4 607.2,504.6 608.6,496.0 610.0,500.2 611.5,491.7 612.9,495.9 614.3,487.3 615.7,493.3 617.2,480.8 618.6,489.0 620.0,476.4 621.5,484.4 622.9,474.9 624.3,480.0 625.7,470.6 627.2,475.6 628.6,466.2 630.0,471.2 631.3,461.8 632.7,466.7 634.1,457.2 635.5,462.1 636.8,452.6 638.2,457.2 639.6,444.9 641.0,452.6 642.3,440.4 643.7,448.0 645.1,439.4 646.5,443.4 647.8,434.8 649.2,438.9 650.6,427.3 652.0,433.4 653.3,422.6 654.7,428.6 656.1,419.5 657.5,424.5 658.8,414.8 660.2,419.7 661.6,410.0 663.0,413.7 664.3,401.2 665.7,408.9 667.3,396.8 669.0,404.8 670.6,392.7 672.2,400.8 673.9,389.9 675.5,396.4 677.2,385.8 678.8,394.1 680.4,385.4 682.1,390.0 683.7,381.4 685.3,390.1 687.0,379.4 688.6,386.0 690.3,375.3 692.0,377.8 693.6,366.8 695.3,373.7 697.0,362.7 698.7,369.7 700.4,362.3 702.0,368.7 703.7,358.3 705.4,364.7 707.1,354.2 708.7,356.9 710.4,346.9 712.1,352.8 713.1,342.3 714.0,347.6 715.0,337.1 716.0,341.7 717.0,328.8 717.9,336.5 718.9,323.6 719.9,330.9 720.9,318.3 721.8,325.7 722.8,313.1 724.9,325.2 727.1,316.1 729.2,321.6 731.4,312.4 733.5,319.7 735.7,308.8 737.9,316.1 740.0,305.2 741.9,312.3 743.9,298.9 745.8,306.2 747.7,294.8 749.6,302.1 751.6,290.8 753.5,298.1 755.3,285.8 757.0,290.1 758.8,281.9 760.5,286.2 762.3,274.7 764.0,282.6 765.8,270.8 767.5,281.2 769.3,269.8 771.0,277.3 772.8,265.9 774.7,273.3 776.5,261.8 778.4,272.2 780.3,261.7 782.2,268.1 784.0,257.6 785.9,259.0 787.8,248.2 789.1,254.5 790.4,243.3 791.7,249.7 793.0,238.5 794.3,244.9 796.5,239.2 798.7,245.9 800.9,236.2 803.1,242.8 805.3,233.1 807.5,239.7 809.6,230.0 811.8,233.4 814.0,225.3 816.2,230.4 818.4,222.3 820.6,227.3 822.8,219.2 824.8,224.0 826.9,212.4 828.9,219.2 831.0,208.9 833.0,215.7 835.1,205.4 837.1,214.9 839.1,206.4 841.2,211.5 843.2,202.9 845.3,208.0 847.3,194.1 849.4,202.3 851.4,190.6 853.6,199.5 855.8,190.3 858.0,196.5 860.2,185.4 862.4,192.4 864.6,182.5 866.8,189.5 869.0,179.5 871.2,186.5 873.4,176.5 875.6,185.3 877.8,173.5 880.0,182.3 882.6,171.2 885.2,180.6 887.8,170.7 890.4,178.1 893.0,169.0 895.5,176.4 898.1,167.3 900.7,174.8 903.3,165.4 905.9,171.3 908.5,163.7 910.9,168.8 913.3,160.4 915.6,165.4 918.0,157.1 920.4,167.7 922.8,158.3 925.4,165.6 928.0,157.5 930.6,164.9 933.2,156.7 935.8,162.0 938.4,152.4 941.0,161.3 943.6,151.7 946.2,160.5 948.8,150.9 951.4,157.5 954.1,147.5 956.8,157.2 959.4,147.1 962.1,161.0 964.8,150.8 967.4,160.7 970.1,150.4 972.8,160.3 975.5,150.2 978.1,158.5 980.8,149.0 983.5,158.5 986.2,149.0 988.9,156.8 991.5,149.9 994.2,156.8 996.9,149.3 999.6,156.7 1002.2,146.3 1004.9,155.5 1007.6,145.0 1010.2,154.2 1012.9,145.2 1015.6,154.6 1020.0,146.7 1022.7,157.5 1025.3,145.7 1028.0,154.1 1030.6,147.3 1033.3,155.7 1035.9,149.0 1038.6,157.3 1041.3,150.5 1044.0,160.5 1046.7,151.7 1049.4,161.9 1052.0,153.2 1054.7,163.4 1057.4,154.6 1060.1,164.8 1062.8,160.2 1065.5,167.7 1068.2,162.2 1070.9,169.7 1073.5,163.1 1076.2,171.6 1078.9,165.1 1081.6,173.5 1084.3,168.1 1087.5,178.1 1090.7,167.4 1093.8,176.0 1097.0,166.9 1099.9,175.9 1102.8,167.4 1105.6,176.4 1108.5,166.4 1111.4,176.6 1114.2,166.9 1117.1,177.2 1120.0,167.4 1122.1,179.8 1124.2,172.1 1126.4,182.6 1128.5,175.1 1130.3,187.1 1132.2,179.4 1134.0,191.4 1135.9,183.6 1137.7,197.0 1139.6,191.0 1141.4,201.3 1144.2,192.3 1147.1,197.3 1149.9,187.7 1152.8,195.5 1155.6,186.0 1158.5,195.4 1161.4,187.6 1164.2,194.9 1167.1,189.0 1170.0,196.4 1172.4,194.1 1174.7,204.5 1177.1,197.2 1179.5,207.6 1181.8,200.3 1184.2,211.8 1186.2,206.0 1188.3,215.9 1190.3,210.1 1192.4,220.0 1194.4,214.2 1196.5,224.0 1198.5,216.9 1200.8,227.8 1203.1,220.6 1205.4,226.3 1207.7,219.2 1210.0,230.0 1213.2,220.5 1216.3,230.2 1219.5,221.8 1222.7,229.1 1225.1,222.4 1227.5,230.3 1229.8,225.0 1232.2,232.5 1234.6,227.3 1237.0,237.8 1239.0,230.2 1241.1,243.5 1243.1,235.8 1245.2,247.2 1247.2,235.2 1249.3,245.7 1251.3,238.9 1254.2,248.3 1257.0,240.3 1259.9,249.7 1262.7,244.6 1265.6,255.6 1267.8,246.7 1270.0,259.1 1272.8,248.7 1275.7,258.8 1278.6,245.1 1281.4,253.2 1283.4,246.7 1285.5,256.6 1287.5,252.6 1289.6,264.0 1291.6,256.0 1293.7,267.5 1295.7,259.5 1297.8,272.4 1300.0,265.1 1302.1,276.0 1304.2,268.7 1306.4,279.6 1308.5,272.3 1311.1,282.0 1313.8,269.5 1316.4,278.4 1319.1,270.7 1321.7,279.6 1324.4,273.0 1327.0,280.8 1329.9,274.8 1332.8,283.1 1335.6,277.1 1338.5,287.6 1341.4,280.3 1343.8,290.2 1346.2,283.2 1348.6,293.1 1350.9,286.1 1353.3,298.3 1355.7,291.8 1358.4,300.5 1361.0,293.4 1363.7,302.1 1366.3,295.0 1369.0,304.1 1371.7,297.3 1374.3,305.7 1377.0,298.9 1379.5,307.9 1381.9,301.8 1384.4,306.1 1386.8,301.2 1389.3,309.0 1391.7,304.1 1394.2,316.2 1396.1,310.9 1398.1,321.9 1400.0,316.6 1402.7,325.9 1405.3,318.8 1408.0,328.1 1410.6,319.3 1413.3,328.1 1415.9,321.5 1418.6,330.4 1421.2,323.4 1423.8,331.8 1426.4,325.3 1429.1,332.9 1431.7,326.7 1434.3,334.8 1436.0,326.7 1437.7,339.1 1439.4,331.0 1441.1,343.4 1442.8,337.7 1445.3,346.3 1447.7,339.9 1450.2,350.0 1452.6,342.9 1455.1,352.2 1457.5,345.1 1460.0,354.5 1462.4,347.2 1464.9,358.1 1467.3,349.7 1469.7,360.2 1472.1,351.7 1474.6,361.0 1477.0,355.5 1479.1,363.6 1481.1,358.7 1483.2,367.3 1485.2,362.0 1487.3,370.5 1489.3,365.2 1491.4,373.8 1494.3,367.6 1497.1,375.2 1500.0,366.3 1502.8,375.5 1505.7,367.7 1508.5,376.9 1511.4,369.1 1513.8,379.0 1516.3,371.8 1518.7,378.6 1521.2,371.5 1523.6,381.2 1526.1,374.1 1528.5,386.8 1531.1,380.6 1533.7,388.7 1536.3,382.5 1539.0,390.6 1541.6,379.5 1544.2,387.8 1546.2,382.3 1548.3,391.7 1550.3,386.2 1552.4,400.1 1554.4,393.2 1556.5,404.0 1558.5,397.1 1560.9,405.2 1563.2,394.5 1565.6,401.8 1567.8,394.7 1569.9,406.8 1572.0,399.4 1574.2,410.5 1576.3,403.1 1578.5,414.2 1580.6,406.8 1582.8,417.9 1585.7,407.3 1588.5,414.4 1591.4,409.0 1594.3,416.1 1597.1,410.7 1600.0,417.7 1602.8,411.5 1605.7,417.1 1608.5,409.1 1611.3,417.1 1614.2,409.1 1617.0,422.2 1618.9,416.0 1620.8,426.3 1622.8,417.3 1624.7,426.3 1626.6,421.4 1628.5,430.4 1631.1,423.8 1633.8,432.8 1636.4,424.7 1639.1,433.5 1641.7,425.4 1644.4,434.2 1647.0,429.0 1649.7,437.4 1652.3,430.6 1655.0,439.0 1657.7,432.1 1660.4,440.5 1663.0,426.6 1665.7,437.7 1668.0,429.1 1670.2,441.1 1672.5,432.5 1674.7,448.4 1677.0,443.8 1679.6,450.9 1682.3,445.4 1684.9,447.1 1687.5,441.2 1690.2,448.7 1692.8,442.9 1695.6,450.2 1698.5,444.0 1701.3,451.3 1704.2,450.2 1707.0,458.0 1709.4,452.4 1711.8,461.1 1714.2,455.5 1716.6,464.2 1719.0,458.6 1721.4,462.9 1724.0,453.4 1726.5,464.0 1729.1,454.5 1731.6,465.1 1734.2,455.6 1736.5,467.4 1738.8,460.5 1741.0,471.9 1743.3,464.0 1745.6,475.4 1748.5,464.6 1751.4,473.1 1754.2,464.7 1757.1,470.5 1760.0,462.4 1761.8,471.3 1763.7,466.3 1765.5,475.2 1767.3,470.2 1769.1,480.7 1771.0,476.0 1772.8,484.6 1775.7,476.7 1778.5,482.3 1781.3,474.4 1784.2,480.0 1786.8,476.4 1789.5,485.5 1792.1,479.1 1794.7,488.2 1797.4,481.9 1800.0,491.0 1802.8,482.9 1805.7,490.4 1808.5,485.2 1811.4,492.8 1814.2,483.3 1817.0,494.1 1819.8,485.2 1822.6,495.9 1825.4,487.1 1828.2,497.8 1831.0,495.6" fill="none" stroke="#5E2F18" stroke-width="11.5" stroke-linejoin="round" stroke-linecap="butt"/>
</g>
<rect x="678.5" y="464.3" width="790" height="769.5" fill="#000"/>
<g mask="url(#dm)"><g filter="url(#spk)"><rect x="679" y="464" width="789" height="769" fill="#2b2b2b"/>
<path d="M1064,483h0m39,1h0m67,10h0m-133,15h0m135,6h0m45,-2h0m-246,9h0m-3,12h0m-49,18h0m88,-2h0m91,26h0m10,-7h0m-45,34h0m18,-8h0m86,3h0m33,0h0m25,-3h0m66,1h0m-132,16h0m46,1h0m-49,8h0m58,-3h0m53,11h0m79,0h0m-301,7h0m17,4h0m115,-3h0m36,-2h0m13,-4h0m15,1h0m21,-3h0m-15,21h0m-329,9h0m156,6h0m200,-10h0m113,11h0m-196,2h0m28,5h0m12,0h0m-266,12h0m107,2h0m175,-4h0m29,-1h0m125,-3h0m-110,16h0m97,6h0m-510,4h0m98,4h0m325,1h0m-368,13h0m73,-1h0m261,-2h0m11,6h0m34,-4h0m-377,14h0m145,2h0m131,1h0m52,-3h0m62,-5h0m10,4h0m62,5h0m9,-2h0m-433,7h0m124,4h0m127,-6h0m-297,19h0m14,-5h0m101,5h0m76,0h0m199,-1h0m26,-5h0m-472,18h0m19,-5h0m58,4h0m53,-6h0m322,9h0m15,-6h0m-521,16h0m20,0h0m86,-8h0m6,5h0m39,1h0m360,-4h0m14,2h0m16,-4h0m-511,18h0m271,4h0m152,-3h0m-562,13h0m156,-9h0m261,9h0m198,-2h0m23,-1h0m-522,15h0m25,1h0m9,-2h0m22,4h0m20,1h0m10,-8h0m29,5h0m181,-6h0m78,2h0m57,-5h0m11,6h0m41,4h0m51,-10h0m-549,21h0m128,-4h0m41,-3h0m156,3h0m89,7h0m18,-4h0m-319,6h0m509,2h0m-580,19h0m103,2h0m9,-10h0m169,8h0m-395,4h0m182,-1h0m4,6h0m16,-6h0m176,8h0m34,-3h0m183,-3h0m-476,19h0m112,3h0m162,-11h0m-19,18h0m211,-4h0m100,-1h0m-597,12h0m48,0h0m253,7h0m171,0h0m-434,16h0m69,-11h0m322,3h0m-417,16h0m110,4h0m197,-12h0m53,11h0m-432,6h0m134,4h0m48,4h0m178,-5h0m51,-7h0m21,3h0m35,0h0m-506,21h0m130,-7h0m6,3h0m51,-3h0m3,7h0m251,-2h0m67,-7h0m18,-3h0m78,6h0m-600,11h0m117,-1h0m10,-1h0m25,7h0m46,-6h0m13,0h0m65,4h0m98,-2h0m109,4h0m13,-10h0m24,1h0m44,5h0m-500,14h0m26,-6h0m113,-1h0m120,2h0m107,-2h0m42,11h0m100,0h0m16,-5h0m9,0h0m-512,17h0m24,-7h0m23,4h0m35,-4h0m13,-1h0m18,6h0m221,-7h0m28,-2h0m74,5h0m22,-3h0m47,0h0m-491,13h0m82,4h0m57,-7h0m22,5h0m77,6h0m37,-11h0m32,11h0m14,-2h0m3,2h0m60,-3h0m39,-3h0m50,2h0m7,0h0m-447,8h0m120,3h0m49,4h0m24,0h0m23,-8h0m38,3h0m26,-5h0m10,12h0m40,-2h0m11,-6h0m15,6h0m13,-4h0m55,3h0m-483,7h0m28,7h0m16,2h0m92,-4h0m82,4h0m14,0h0m18,-9h0m6,6h0m41,2h0m101,-3h0m18,1h0m28,0h0m15,0h0m-282,3h0m35,2h0m181,6h0m51,-6h0m50,3h0m93,5h0m-390,10h0m111,3h0m-205,4h0m84,9h0m55,-3h0m8,-1h0m44,1h0m16,-2h0m44,-2h0m7,5h0m85,3h0m90,-3h0m23,-5h0m-552,18h0m100,-2h0m154,-6h0m24,2h0m13,-4h0m82,7h0m148,4h0m24,-7h0m-477,20h0m66,-7h0m42,7h0m69,-12h0m63,3h0m65,-2h0m13,10h0m151,-3h0m-492,9h0m29,-3h0m109,10h0m48,-9h0m64,6h0m-248,3h0m63,7h0m28,-6h0m31,3h0m77,9h0m26,-12h0m67,3h0m165,5h0m-254,13h0m13,-1h0m87,-8h0m128,6h0m9,6h0m-349,5h0m66,-1h0m12,8h0m40,-2h0m-184,4h0m87,6h0m47,3h0m142,2h0m-263,3h0m123,8h0m50,-11h0m101,6h0m26,-1h0m32,5h0m3,-8h0m20,3h0m-261,15h0m52,12h0m21,-4h0m31,0h0m73,8h0m-184,7h0m65,6h0m-9,5h0m18,-3h0" fill="none" stroke="#fff" stroke-opacity="0.14" stroke-width="10.5" stroke-linecap="round"/>
<path d="M1052,477h0m-78,23h0m67,-4h0m110,1h0m-229,16h0m42,-3h0m29,-1h0m171,-2h0m36,11h0m-305,9h0m15,-3h0m17,-1h0m59,5h0m22,-9h0m251,10h0m-284,14h0m43,-8h0m238,-5h0m-305,21h0m69,2h0m241,-2h0m-339,6h0m47,8h0m70,-3h0m-195,6h0m115,10h0m67,0h0m94,7h0m20,7h0m-282,12h0m55,-12h0m55,6h0m277,4h0m23,-10h0m-226,16h0m23,5h0m29,3h0m152,-10h0m20,8h0m80,-7h0m-146,16h0m40,-2h0m-135,9h0m255,8h0m-486,12h0m58,2h0m93,-4h0m43,3h0m16,-5h0m73,8h0m26,-11h0m25,-1h0m28,1h0m37,-1h0m-512,24h0m226,-7h0m104,7h0m31,-10h0m99,4h0m-473,12h0m321,1h0m210,0h0m17,-3h0m93,-4h0m-612,22h0m113,-1h0m104,1h0m24,-8h0m31,7h0m67,0h0m35,-9h0m46,8h0m54,-7h0m67,10h0m69,-8h0m21,9h0m-602,6h0m188,4h0m23,-5h0m4,-3h0m31,2h0m21,1h0m206,0h0m32,6h0m-542,2h0m21,8h0m55,0h0m43,3h0m105,-10h0m43,2h0m7,3h0m35,4h0m93,-6h0m119,5h0m20,0h0m15,1h0m-596,3h0m238,6h0m93,5h0m69,-7h0m-343,10h0m56,6h0m49,-8h0m19,3h0m48,4h0m51,5h0m104,-4h0m87,-8h0m71,0h0m12,11h0m24,-4h0m121,-2h0m-670,15h0m45,-5h0m19,4h0m12,-5h0m5,8h0m95,-5h0m48,2h0m57,-2h0m15,2h0m112,2h0m139,-1h0m114,-6h0m-582,12h0m44,10h0m127,-4h0m19,-7h0m166,-1h0m107,3h0m120,9h0m-406,4h0m107,8h0m45,1h0m34,-2h0m46,-7h0m61,8h0m114,-6h0m-525,9h0m12,9h0m148,-1h0m38,-8h0m19,4h0m59,6h0m-249,11h0m30,-1h0m25,-1h0m35,1h0m124,-5h0m180,-4h0m22,7h0m81,-4h0m-685,20h0m59,-3h0m94,-8h0m27,2h0m82,1h0m6,8h0m19,-10h0m22,7h0m35,2h0m15,-9h0m96,11h0m66,-2h0m19,-4h0m85,4h0m-640,13h0m311,-11h0m258,6h0m133,6h0m-590,5h0m47,-4h0m41,10h0m46,-4h0m179,-2h0m29,5h0m41,1h0m36,-2h0m35,3h0m16,-6h0m38,5h0m33,-2h0m-668,10h0m126,-7h0m12,1h0m10,5h0m21,-2h0m6,0h0m56,5h0m58,-8h0m133,12h0m243,-6h0m77,-5h0m-736,18h0m125,-5h0m136,-1h0m80,0h0m56,4h0m6,6h0m44,1h0m25,-6h0m29,0h0m48,0h0m6,4h0m13,-9h0m85,4h0m-616,19h0m94,-9h0m187,0h0m45,9h0m58,-2h0m82,-2h0m108,3h0m88,-3h0m-585,7h0m80,5h0m209,1h0m34,-3h0m75,-3h0m26,6h0m92,2h0m-627,3h0m266,11h0m74,-3h0m20,2h0m89,-8h0m25,2h0m18,2h0m12,-3h0m114,5h0m-466,7h0m86,5h0m24,-6h0m75,5h0m144,-6h0m21,-1h0m125,10h0m8,-6h0m-561,18h0m17,-1h0m44,1h0m110,-7h0m120,3h0m28,6h0m71,-5h0m105,-1h0m70,-2h0m-437,13h0m18,1h0m23,5h0m178,-6h0m80,3h0m16,-5h0m59,0h0m-488,16h0m32,-3h0m8,6h0m16,0h0m13,-3h0m20,4h0m23,2h0m50,-12h0m17,8h0m176,-1h0m-280,5h0m110,0h0m131,11h0m45,-1h0m24,-7h0m93,1h0m-534,9h0m52,10h0m33,-1h0m68,-4h0m61,-3h0m182,7h0m23,-5h0m20,7h0m131,-11h0m-459,14h0m11,0h0m13,-1h0m14,9h0m15,-11h0m37,10h0m32,-4h0m85,5h0m11,-5h0m27,3h0m38,-2h0m51,4h0m18,-6h0m35,4h0m-453,7h0m86,8h0m10,-9h0m97,7h0m32,-7h0m28,1h0m12,8h0m31,-2h0m33,-1h0m13,-4h0m-263,15h0m8,-4h0m18,0h0m48,-2h0m65,11h0m36,-7h0m33,-6h0m6,5h0m30,3h0m123,3h0m45,-6h0m112,2h0m-605,10h0m26,0h0m20,0h0m8,3h0m57,5h0m20,-10h0m14,10h0m19,-11h0m50,7h0m273,0h0m32,-3h0m77,-3h0m-606,11h0m102,1h0m46,5h0m41,5h0m22,0h0m133,-2h0m38,1h0m6,-6h0m133,3h0m-501,8h0m19,-1h0m13,-2h0m246,4h0m86,-1h0m43,-2h0m100,4h0m56,5h0m-571,7h0m64,2h0m55,-3h0m115,-1h0m83,0h0m21,4h0m60,-3h0m35,-2h0m105,8h0m32,-6h0m-525,16h0m101,-2h0m17,-5h0m18,3h0m116,-3h0m96,7h0m30,-7h0m68,10h0m71,-2h0m-525,11h0m21,4h0m101,-11h0m8,8h0m45,-1h0m11,-1h0m22,-2h0m12,2h0m85,-2h0m18,-4h0m92,12h0m-344,7h0m18,-4h0m76,-2h0m105,4h0m8,3h0m26,0h0m22,-6h0m51,6h0m53,2h0m46,-6h0m-436,12h0m86,8h0m22,-10h0m84,-2h0m90,1h0m155,8h0m4,-5h0m19,2h0m-360,8h0m40,2h0m16,8h0m159,-2h0m20,-10h0m73,10h0m-324,13h0m27,-3h0m60,-7h0m-43,19h0m201,5h0m14,0h0m20,-6h0m16,6h0m33,-6h0m9,-5h0m-357,18h0m45,-2h0m11,-1h0m47,6h0m45,-2h0m167,-6h0m19,8h0m-334,13h0m19,2h0m154,-9h0m13,2h0m32,2h0m26,0h0m-214,16h0m82,-1h0m13,2h0m16,-3h0m11,-7h0m24,3h0m109,5h0m10,-10h0m-267,24h0m40,-3h0m16,-2h0m104,5h0m80,-9h0m-166,17h0m52,5h0m64,-8h0m-148,8h0m79,2h0" fill="none" stroke="#fff" stroke-opacity="0.26" stroke-width="10.5" stroke-linecap="round"/>
<path d="M994,487h0m38,4h0m10,-8h0m33,1h0m47,3h0m27,-1h0m-191,18h0m41,-5h0m61,6h0m12,-5h0m16,-4h0m21,9h0m30,-7h0m45,0h0m-176,9h0m12,11h0m162,-6h0m42,4h0m-273,3h0m246,1h0m40,7h0m17,-1h0m-373,8h0m6,-3h0m34,1h0m23,7h0m63,2h0m22,1h0m206,-1h0m3,-7h0m37,3h0m-283,14h0m63,-2h0m16,0h0m51,-6h0m21,9h0m87,-8h0m-378,15h0m103,1h0m17,-1h0m20,2h0m16,-2h0m54,5h0m59,3h0m6,-8h0m16,-2h0m120,7h0m10,-2h0m11,2h0m21,-4h0m-396,19h0m14,-2h0m20,-4h0m117,6h0m11,-2h0m47,-10h0m21,7h0m19,2h0m7,1h0m9,-2h0m102,-3h0m35,2h0m5,1h0m13,1h0m-467,14h0m21,-8h0m30,6h0m24,0h0m32,-8h0m55,8h0m23,-3h0m36,6h0m45,-1h0m37,-10h0m162,0h0m-508,22h0m11,-2h0m8,5h0m39,-6h0m12,1h0m13,-3h0m27,0h0m33,-4h0m25,3h0m6,7h0m16,-9h0m44,7h0m44,-2h0m15,3h0m29,-4h0m13,3h0m24,-9h0m54,6h0m114,3h0m-511,11h0m64,-4h0m53,7h0m6,-10h0m24,1h0m4,11h0m18,-4h0m68,-2h0m40,4h0m21,-1h0m9,-9h0m31,7h0m80,4h0m107,-5h0m-530,8h0m31,2h0m43,4h0m36,-5h0m84,5h0m68,-6h0m12,5h0m67,-1h0m45,6h0m-429,1h0m74,0h0m125,10h0m19,-3h0m12,-3h0m12,-2h0m46,8h0m82,-8h0m31,7h0m86,-9h0m17,4h0m88,6h0m-593,6h0m106,-2h0m22,7h0m23,-7h0m17,-2h0m13,9h0m39,1h0m38,-5h0m12,-6h0m38,0h0m12,9h0m36,-5h0m126,-3h0m20,8h0m70,-9h0m-504,14h0m19,7h0m25,3h0m60,-4h0m50,-6h0m9,9h0m134,1h0m39,0h0m39,-4h0m17,3h0m128,-2h0m-601,11h0m113,-7h0m45,2h0m22,3h0m17,3h0m25,-7h0m16,7h0m19,-1h0m12,5h0m50,-10h0m55,6h0m175,3h0m-468,10h0m123,-6h0m81,8h0m72,-7h0m79,4h0m17,-8h0m65,7h0m3,-6h0m56,0h0m-576,24h0m38,0h0m20,-13h0m9,7h0m46,-4h0m44,7h0m40,2h0m19,-9h0m109,6h0m6,-8h0m103,8h0m115,2h0m13,-3h0m-583,17h0m70,-5h0m80,-5h0m15,8h0m42,-1h0m49,-8h0m74,3h0m20,-2h0m16,0h0m22,0h0m57,10h0m42,-5h0m28,3h0m109,-1h0m16,-6h0m-601,11h0m30,10h0m18,-5h0m142,1h0m87,2h0m33,2h0m42,0h0m23,-9h0m13,3h0m213,-3h0m-656,19h0m12,-2h0m47,-5h0m71,5h0m57,0h0m133,-3h0m32,0h0m17,6h0m58,-1h0m70,1h0m62,-7h0m54,2h0m-574,14h0m228,3h0m21,2h0m56,-5h0m32,5h0m37,-12h0m49,9h0m5,-9h0m199,10h0m-684,3h0m29,7h0m105,4h0m9,-6h0m82,1h0m18,3h0m11,-1h0m16,-8h0m111,9h0m35,-5h0m12,-1h0m16,6h0m5,-8h0m105,8h0m12,-9h0m116,3h0m-668,18h0m18,-9h0m65,5h0m23,-2h0m115,4h0m94,4h0m103,-8h0m130,9h0m81,-7h0m14,-3h0m12,-1h0m-646,20h0m53,-1h0m57,2h0m8,-8h0m84,0h0m36,-1h0m15,11h0m75,-9h0m72,8h0m12,-9h0m73,10h0m39,-7h0m20,-4h0m78,-1h0m-655,16h0m37,8h0m54,-4h0m57,-1h0m15,3h0m12,-5h0m58,-2h0m30,3h0m29,0h0m23,-4h0m29,9h0m37,-9h0m133,4h0m124,-6h0m33,11h0m52,1h0m-627,11h0m34,-5h0m14,6h0m29,-3h0m59,-2h0m8,5h0m23,-1h0m95,-10h0m37,7h0m14,-2h0m28,7h0m15,-7h0m34,3h0m18,-4h0m72,2h0m78,-5h0m47,-1h0m34,2h0m-712,18h0m44,-3h0m21,4h0m136,-5h0m25,5h0m182,-5h0m11,1h0m27,3h0m48,4h0m16,-10h0m83,8h0m7,-1h0m102,-3h0m-690,12h0m9,1h0m117,4h0m84,-2h0m78,1h0m9,-5h0m60,0h0m20,-4h0m35,11h0m27,0h0m138,-6h0m105,-2h0m-632,14h0m19,0h0m141,-5h0m32,4h0m30,-2h0m13,3h0m30,4h0m37,1h0m19,-1h0m53,-7h0m36,5h0m14,4h0m80,1h0m14,-3h0m6,-2h0m12,-1h0m77,0h0m-650,17h0m4,-9h0m40,7h0m12,1h0m86,-10h0m20,0h0m100,2h0m131,7h0m57,-9h0m25,9h0m70,-1h0m7,-8h0m40,9h0m89,-5h0m-663,15h0m35,-2h0m26,3h0m62,-4h0m152,-4h0m76,12h0m59,-7h0m9,-3h0m40,0h0m15,2h0m18,3h0m7,-2h0m17,5h0m72,3h0m53,-9h0m27,5h0m-700,7h0m5,2h0m28,1h0m19,-5h0m65,0h0m14,7h0m130,-1h0m19,1h0m46,2h0m22,0h0m10,-2h0m61,-5h0m34,9h0m89,-13h0m11,10h0m36,0h0m-588,4h0m13,3h0m74,-4h0m15,4h0m24,8h0m19,-9h0m84,0h0m258,3h0m21,-4h0m11,0h0m11,2h0m37,-3h0m47,5h0m-648,14h0m80,-8h0m17,9h0m91,2h0m38,-2h0m32,3h0m37,-8h0m56,-4h0m17,7h0m39,5h0m43,-2h0m11,1h0m90,-1h0m30,2h0m18,-8h0m20,4h0m83,-6h0m15,2h0m-710,17h0m46,-4h0m68,7h0m36,1h0m103,-13h0m86,3h0m72,-2h0m7,4h0m20,8h0m6,-2h0m38,-10h0m13,8h0m28,-5h0m47,-3h0m17,0h0m-573,18h0m36,-6h0m25,9h0m34,-8h0m66,0h0m15,-2h0m73,9h0m24,-6h0m45,3h0m18,-4h0m7,1h0m41,0h0m155,6h0m45,0h0m7,-5h0m-601,15h0m55,2h0m42,4h0m142,-7h0m100,7h0m26,-9h0m9,-2h0m65,-1h0m62,10h0m121,-7h0m85,0h0m-693,11h0m30,-2h0m50,11h0m11,2h0m68,-7h0m134,-3h0m284,5h0m31,4h0m74,-7h0m-626,20h0m19,-5h0m106,-1h0m87,5h0m40,-10h0m40,6h0m71,2h0m37,-2h0m90,5h0m-527,6h0m22,-3h0m61,8h0m89,-7h0m42,-3h0m19,-1h0m22,6h0m11,-2h0m11,9h0m141,-1h0m245,-3h0m3,-7h0m-677,11h0m194,10h0m25,-7h0m3,5h0m33,3h0m33,-9h0m38,-3h0m27,5h0m10,5h0m64,-2h0m165,-5h0m-566,11h0m32,8h0m2,-4h0m49,-3h0m83,-1h0m42,0h0m230,1h0m-261,16h0m19,-3h0m75,6h0m53,-4h0m240,-4h0m21,7h0m50,3h0m-585,10h0m93,-7h0m38,2h0m126,7h0m9,1h0m41,-4h0m185,-3h0m12,3h0m-559,11h0m24,3h0m50,2h0m21,-6h0m11,2h0m17,-5h0m44,5h0m39,-4h0m53,4h0m13,2h0m80,-5h0m11,-5h0m93,12h0m20,-6h0m83,-5h0m-502,23h0m40,-8h0m64,-2h0m13,0h0m14,3h0m29,1h0m16,5h0m37,-9h0m16,-1h0m31,9h0m59,3h0m25,-1h0m6,-5h0m50,-4h0m121,-1h0m-534,18h0m10,4h0m40,-9h0m12,10h0m10,-7h0m124,0h0m13,4h0m105,-1h0m22,-1h0m165,1h0m8,1h0m-424,9h0m44,1h0m138,-5h0m211,3h0m-479,17h0m39,-9h0m81,3h0m236,1h0m68,2h0m67,-1h0m18,-3h0m20,9h0m-524,12h0m30,-9h0m52,4h0m74,7h0m61,-10h0m63,-3h0m118,1h0m22,0h0m8,-1h0m-306,14h0m69,3h0m132,3h0m56,2h0m-352,12h0m24,2h0m16,0h0m26,-8h0m18,3h0m6,4h0m58,-8h0m32,5h0m225,4h0m17,-2h0m14,-2h0m-421,9h0m17,7h0m44,-10h0m9,9h0m31,-8h0m80,7h0m46,-9h0m28,12h0m15,0h0m11,-8h0m41,0h0m93,8h0m34,-10h0m-293,22h0m55,-4h0m35,-1h0m42,0h0m27,-2h0m23,-1h0m17,0h0m52,-1h0m28,0h0m-289,20h0m22,-1h0m13,-4h0m42,-5h0m20,3h0m105,2h0m-289,9h0m96,5h0m21,5h0m87,-12h0m14,12h0m19,-9h0m7,-2h0m96,1h0m-327,12h0m50,0h0m182,8h0m56,-3h0m-196,16h0m47,-6h0m36,1h0m33,6h0m21,-9h0m-82,18h0m26,-1h0m7,3h0m12,-4h0" fill="none" stroke="#fff" stroke-opacity="0.40" stroke-width="10.5" stroke-linecap="round"/>
<path d="M1017,481h0m-10,6h0m9,1h0m-1,13h0m10,1h0m76,-2h0m20,-3h0m-178,16h0m36,2h0m66,-8h0m44,4h0m33,2h0m3,3h0m26,-7h0m-214,21h0m93,-1h0m178,0h0m8,1h0m-280,10h0m53,-5h0m62,-4h0m15,0h0m5,10h0m14,-5h0m15,4h0m82,-4h0m-316,19h0m21,-9h0m18,1h0m40,-4h0m45,3h0m52,9h0m54,-11h0m19,4h0m32,-3h0m28,1h0m100,3h0m-412,6h0m32,6h0m11,5h0m113,-2h0m58,-1h0m85,0h0m37,4h0m34,-8h0m7,2h0m-387,10h0m35,5h0m12,3h0m73,-11h0m12,1h0m8,1h0m18,4h0m30,-6h0m40,12h0m116,-8h0m23,3h0m36,3h0m14,1h0m27,-8h0m-399,15h0m27,-4h0m24,-3h0m32,12h0m10,-1h0m12,-5h0m25,-1h0m38,-3h0m31,10h0m82,-6h0m24,3h0m16,1h0m86,-2h0m3,-4h0m-505,21h0m140,-6h0m89,-3h0m87,-2h0m163,8h0m41,-1h0m5,-4h0m-483,9h0m36,1h0m22,3h0m15,4h0m100,0h0m16,-4h0m279,2h0m17,-4h0m-546,21h0m15,-7h0m93,-2h0m18,7h0m55,-6h0m21,0h0m15,0h0m6,-4h0m41,12h0m18,-11h0m17,10h0m35,-7h0m25,3h0m111,2h0m29,-2h0m4,-4h0m72,-1h0m-516,22h0m34,1h0m17,-1h0m33,-9h0m4,7h0m15,-6h0m12,1h0m21,3h0m115,2h0m29,3h0m7,1h0m12,-1h0m174,-1h0m11,-10h0m8,1h0m34,6h0m-528,13h0m60,-7h0m83,9h0m8,1h0m172,-10h0m26,3h0m116,-2h0m48,1h0m-572,19h0m7,-2h0m15,3h0m17,-3h0m17,-1h0m25,1h0m38,-6h0m29,4h0m49,6h0m48,-11h0m23,0h0m53,-1h0m23,4h0m39,8h0m11,-9h0m23,5h0m119,1h0m39,0h0m-601,5h0m30,0h0m35,6h0m20,3h0m36,-9h0m27,9h0m16,-1h0m26,-3h0m39,2h0m70,-2h0m25,-2h0m35,6h0m8,-4h0m15,-3h0m25,3h0m48,4h0m122,-9h0m21,7h0m18,2h0m-628,7h0m9,-4h0m10,3h0m40,2h0m61,6h0m42,-12h0m15,4h0m8,5h0m20,-8h0m51,4h0m87,1h0m14,2h0m64,-3h0m6,7h0m19,-5h0m143,-1h0m-474,10h0m39,-3h0m60,4h0m87,-5h0m73,4h0m22,7h0m9,-4h0m22,-4h0m24,4h0m26,-3h0m42,-1h0m99,-1h0m-620,10h0m36,8h0m28,-7h0m54,2h0m160,7h0m45,-10h0m64,6h0m29,-2h0m30,-2h0m28,4h0m37,-6h0m93,3h0m24,-1h0m-609,10h0m121,4h0m31,-1h0m35,-2h0m8,5h0m42,4h0m44,-7h0m74,-2h0m76,10h0m19,-11h0m30,6h0m107,-4h0m27,4h0m33,3h0m-678,6h0m155,-2h0m92,2h0m36,0h0m18,4h0m118,1h0m24,-5h0m10,1h0m-451,13h0m54,6h0m67,0h0m21,-10h0m13,2h0m14,9h0m58,-1h0m55,-9h0m50,6h0m60,-6h0m20,0h0m101,1h0m16,7h0m22,-5h0m9,8h0m89,-4h0m14,3h0m-652,13h0m30,0h0m27,-2h0m7,-6h0m13,2h0m74,1h0m126,-3h0m36,3h0m14,1h0m145,-8h0m13,10h0m23,-8h0m98,7h0m32,-7h0m-664,12h0m49,6h0m63,-5h0m103,7h0m41,-7h0m48,6h0m52,-5h0m9,8h0m11,1h0m19,-9h0m24,4h0m42,-2h0m42,-4h0m14,3h0m58,-1h0m-576,21h0m12,-11h0m47,2h0m31,-2h0m204,6h0m12,-7h0m27,10h0m83,-9h0m84,-1h0m24,11h0m19,-9h0m148,6h0m31,3h0m-720,2h0m16,6h0m34,4h0m18,-10h0m251,4h0m32,0h0m13,2h0m76,2h0m8,2h0m11,0h0m18,-6h0m12,-3h0m91,3h0m7,7h0m-550,12h0m24,0h0m49,-4h0m85,5h0m254,0h0m67,-12h0m12,8h0m181,-1h0m-672,5h0m29,3h0m252,0h0m12,8h0m22,-2h0m11,1h0m24,-2h0m61,-7h0m207,9h0m33,-9h0m-698,15h0m15,-3h0m43,5h0m21,4h0m11,1h0m24,-10h0m201,2h0m36,0h0m13,-2h0m13,7h0m181,-1h0m45,-1h0m128,-2h0m-720,17h0m10,-1h0m28,-1h0m43,3h0m164,-5h0m176,1h0m16,-5h0m22,9h0m88,-5h0m9,6h0m67,-1h0m48,-6h0m-667,13h0m18,0h0m42,-1h0m219,5h0m31,-2h0m29,6h0m22,-12h0m86,8h0m161,0h0m62,-6h0m-669,11h0m38,10h0m23,-4h0m15,2h0m152,-6h0m28,2h0m21,5h0m14,2h0m19,-10h0m63,0h0m70,10h0m54,-1h0m81,-1h0m41,-9h0m94,1h0m-730,23h0m66,-2h0m41,-9h0m136,-2h0m27,8h0m80,2h0m110,-1h0m54,0h0m52,-4h0m39,2h0m44,2h0m80,3h0m-663,9h0m18,4h0m15,-5h0m145,-3h0m53,7h0m13,1h0m12,0h0m56,-3h0m8,0h0m36,-3h0m15,-1h0m37,-3h0m116,0h0m-573,14h0m26,0h0m11,5h0m25,-8h0m201,8h0m120,1h0m117,-3h0m144,4h0m-642,9h0m16,-3h0m255,-3h0m21,0h0m11,5h0m11,-3h0m185,4h0m92,-2h0m40,-1h0m80,1h0m-702,12h0m48,-2h0m28,0h0m71,6h0m109,0h0m30,-4h0m18,5h0m121,-6h0m82,4h0m61,0h0m38,-4h0m8,8h0m54,0h0m16,-6h0m18,-4h0m-703,21h0m13,-1h0m250,-1h0m21,-8h0m2,0h0m19,1h0m33,-1h0m63,3h0m142,-2h0m88,9h0m25,-2h0m23,-9h0m-580,24h0m127,-6h0m14,-1h0m27,3h0m44,-1h0m11,0h0m20,-2h0m8,1h0m18,-1h0m44,-1h0m257,2h0m21,-5h0m-655,13h0m197,11h0m21,-12h0m33,4h0m312,6h0m54,-8h0m37,9h0m-681,9h0m28,4h0m316,-9h0m29,1h0m223,0h0m16,0h0m30,4h0m-578,13h0m540,-5h0m31,0h0m30,1h0m-652,14h0m26,-3h0m137,7h0m454,-8h0m16,0h0m-619,18h0m109,3h0m193,0h0m251,-8h0m-549,13h0m126,3h0m83,-1h0m23,-4h0m352,-2h0m15,10h0m13,-8h0m10,9h0m-626,6h0m132,6h0m17,-3h0m30,-4h0m52,3h0m136,-3h0m212,8h0m-540,9h0m25,-8h0m52,2h0m12,2h0m188,2h0m210,-4h0m16,5h0m59,1h0m-437,5h0m132,5h0m-222,16h0m20,3h0m437,-8h0m-486,17h0m19,-9h0m19,3h0m29,0h0m77,-1h0m8,2h0m52,3h0m3,-5h0m253,3h0m-456,7h0m94,13h0m4,-8h0m13,4h0m203,-3h0m31,4h0m105,-1h0m13,-9h0m-451,18h0m52,2h0m16,-8h0m193,7h0m75,4h0m51,-5h0m30,3h0m12,2h0m-407,4h0m37,0h0m318,9h0m4,-8h0m-331,19h0m26,-7h0m78,-3h0m168,0h0m64,7h0m-348,7h0m33,-1h0m19,5h0m283,-3h0m28,5h0m-284,6h0m28,1h0m74,10h0m-106,6h0m224,1h0m30,-6h0m-256,15h0m48,5h0m97,-3h0m58,0h0m-141,19h0" fill="none" stroke="#fff" stroke-opacity="0.58" stroke-width="10.5" stroke-linecap="round"/>
<path d="M982,490h0m149,-3h0m-199,26h0m128,16h0m6,-11h0m29,4h0m19,3h0m12,-4h0m11,0h0m17,3h0m23,-3h0m-274,12h0m212,8h0m22,-5h0m8,7h0m16,-2h0m16,0h0m-249,13h0m41,-3h0m110,-5h0m81,4h0m66,1h0m22,1h0m46,0h0m-409,6h0m50,7h0m114,-10h0m52,2h0m68,1h0m44,9h0m-382,10h0m-7,5h0m19,5h0m12,-1h0m386,-2h0m28,-3h0m-235,19h0m269,2h0m-514,12h0m19,-1h0m14,-6h0m467,-3h0m11,1h0m-478,11h0m45,2h0m91,9h0m344,-9h0m33,10h0m-534,3h0m13,3h0m3,-2h0m35,-2h0m443,1h0m-524,20h0m33,1h0m16,-6h0m7,-4h0m26,9h0m266,-5h0m206,6h0m4,-4h0m-269,15h0m243,-8h0m44,11h0m-539,10h0m24,-6h0m2,10h0m49,9h0m-123,9h0m117,-4h0m41,-1h0m25,2h0m238,-1h0m49,7h0m143,-9h0m-441,14h0m19,2h0m275,-3h0m-478,15h0m337,2h0m63,3h0m77,3h0m-375,2h0m388,7h0m127,-2h0m21,0h0m-645,6h0m490,2h0m117,-2h0m-565,23h0m123,-1h0m467,-5h0m-602,10h0m266,4h0m313,0h0m52,-4h0m-631,19h0m258,-9h0m72,0h0m84,1h0m11,-1h0m193,3h0m-579,12h0m296,7h0m128,-6h0m14,4h0m150,-1h0m-677,10h0m45,0h0m619,2h0m7,1h0m-375,8h0m371,4h0m-1,15h0m20,-11h0m-657,15h0m284,1h0m154,-4h0m224,3h0m-419,16h0m386,2h0m30,-1h0m11,-5h0m-448,13h0m112,4h0m298,3h0m-391,8h0m56,3h0m327,-7h0m43,5h0m-689,9h0m315,4h0m335,-3h0m12,5h0m45,-3h0m-696,14h0m291,-8h0m404,12h0m-663,5h0m218,2h0m387,-4h0m36,2h0m-665,15h0m338,-2h0m22,3h0m272,-1h0m1,9h0m29,-1h0m-653,22h0m267,-5h0m327,-3h0m30,3h0m-622,12h0m315,1h0m278,0h0m50,-2h0m-9,9h0m-633,15h0m636,7h0m-361,5h0m297,-3h0m51,13h0m-38,11h0m-83,17h0m-420,30h0m72,-10h0m383,1h0m-505,9h0m480,8h0m41,-3h0m-56,20h0m-85,2h0m86,4h0m-386,6h0m91,11h0m275,-1h0m-89,8h0m38,1h0m-238,29h0m-38,13h0m15,3h0m4,9h0m182,17h0" fill="none" stroke="#fff" stroke-opacity="0.80" stroke-width="10.5" stroke-linecap="round"/>
<path d="M1067,517h0m37,-1h0m-23,4h0m128,17h0m-15,15h0m13,-1h0m-23,6h0m-306,14h0m330,0h0m30,-1h0m-6,13h0m52,0h0m-424,32h0m243,-3h0m-253,14h0m474,36h0m47,19h0m-116,22h0m-422,1h0m22,17h0m510,-5h0m-236,24h0m239,5h0m-579,21h0m69,2h0m533,18h0m3,12h0m-649,19h0m468,7h0m62,-1h0m-70,10h0m186,-1h0m-3,36h0m-349,16h0m345,1h0m-30,13h0m50,-7h0m-25,10h0m13,11h0m0,8h0m17,-4h0m-42,12h0m47,8h0m-55,30h0m14,3h0m-9,15h0m-529,2h0m521,9h0m-11,12h0m-459,9h0m482,4h0m-401,32h0m156,105h0" fill="none" stroke="#fff" stroke-opacity="1.00" stroke-width="10.5" stroke-linecap="round"/>
</g></g>
<circle cx="912.3" cy="710.5" r="83.7" fill="none" stroke="#FDAB93" stroke-width="10.8"/>
<text transform="translate(912.1 731.6) scale(0.93 1)" font-size="81" text-anchor="middle" fill="#FDAB93">a1</text>
<circle cx="1161.2" cy="691.8" r="83.7" fill="none" stroke="#FDB20F" stroke-width="10.8"/>
<text transform="translate(1164.5 717.0) scale(0.93 1)" font-size="81" text-anchor="middle" fill="#FDB20F">a2</text>
<circle cx="1194.9" cy="994.2" r="83.7" fill="none" stroke="#E00716" stroke-width="10.8"/>
<text transform="translate(1196.7 1013.0) scale(0.93 1)" font-size="81" text-anchor="middle" fill="#E00716">a3</text>
<circle cx="941.5" cy="1001.5" r="83.7" fill="none" stroke="#6A3416" stroke-width="10.8"/>
<text transform="translate(943.0 1030.1) scale(0.93 1)" font-size="81" text-anchor="middle" fill="#6A3416">a4</text>
<rect x="1283" y="1188.3" width="122.7" height="10.7" fill="#fff"/>
<text x="1348.4" y="1159" font-size="54" text-anchor="middle" fill="#fff">50 µm</text>
<text x="1055" y="1496" font-size="95" font-weight="bold" text-anchor="middle" fill="#000">Time (min)</text>
<text transform="translate(98 610) rotate(-90)" font-size="95" font-weight="bold" text-anchor="middle" fill="#000">Normalized PL (a.u.)</text>
<rect x="1546" y="648" width="275" height="359" fill="#fff" stroke="#333" stroke-width="2"/>
<line x1="1556" y1="697.2" x2="1713" y2="697.2" stroke="#FDAB93" stroke-width="13" stroke-linecap="round"/>
<text transform="translate(1732.5 720.4) scale(0.97 1)" font-size="73" fill="#000">a1</text>
<line x1="1556" y1="784.3" x2="1713" y2="784.3" stroke="#FDB20F" stroke-width="13" stroke-linecap="round"/>
<text transform="translate(1732.5 807.5) scale(0.97 1)" font-size="73" fill="#000">a2</text>
<line x1="1556" y1="871.4" x2="1713" y2="871.4" stroke="#E00716" stroke-width="13" stroke-linecap="round"/>
<text transform="translate(1732.5 894.6) scale(0.97 1)" font-size="73" fill="#000">a3</text>
<line x1="1556" y1="958.5" x2="1713" y2="958.5" stroke="#5E2F18" stroke-width="13" stroke-linecap="round"/>
<text transform="translate(1732.5 981.7) scale(0.97 1)" font-size="73" fill="#000">a4</text>
</svg></body></html>
